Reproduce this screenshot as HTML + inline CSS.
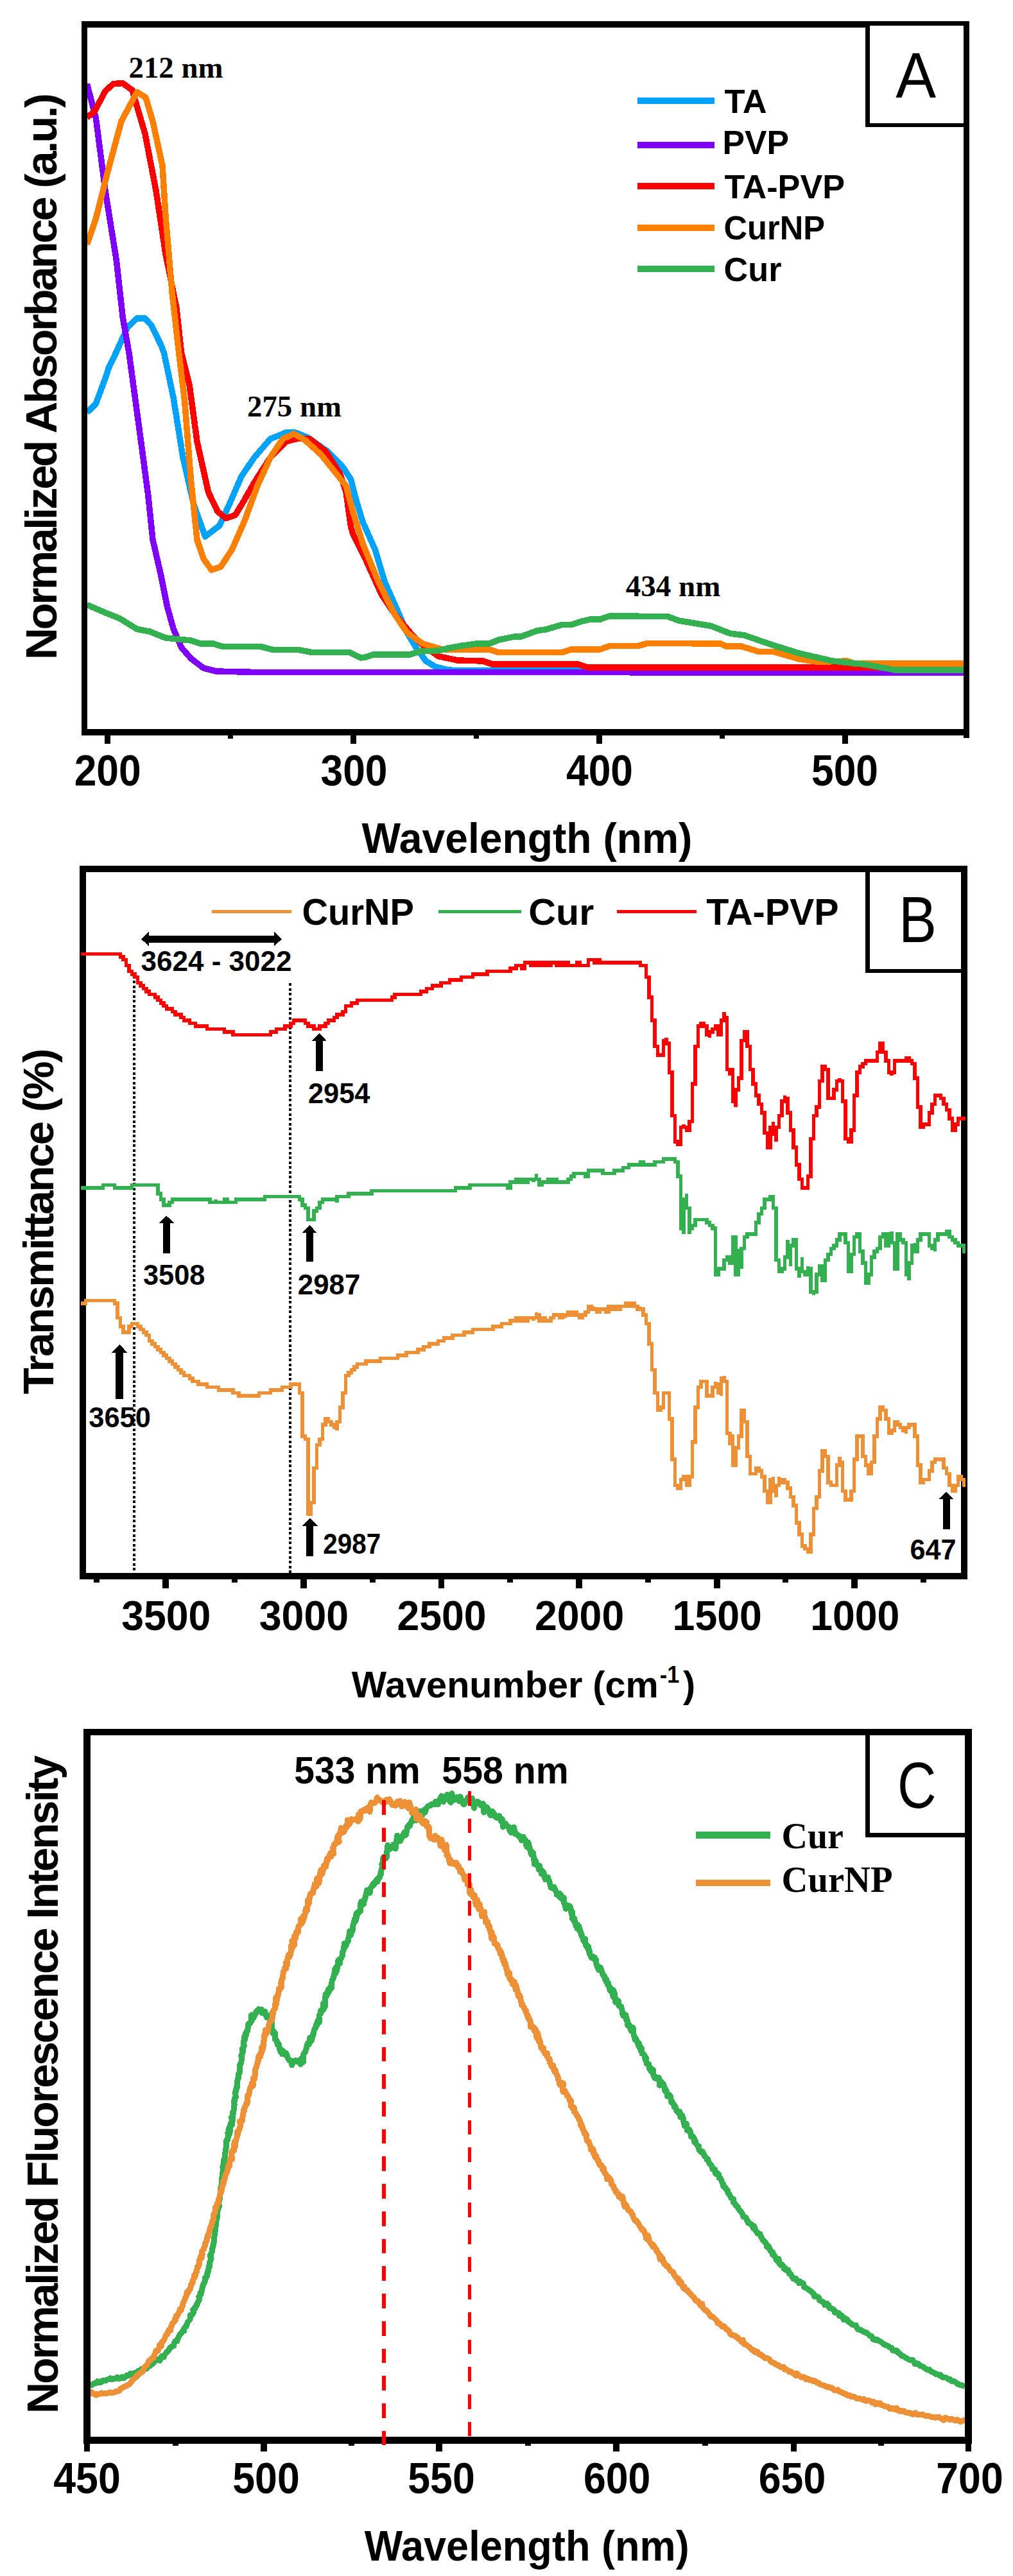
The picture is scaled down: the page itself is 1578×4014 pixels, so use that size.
<!DOCTYPE html>
<html lang="en"><head><meta charset="utf-8"><title>Figure: UV-Vis, FTIR and fluorescence spectra</title>
<style>
html,body{margin:0;padding:0;background:#fff;}
body{width:1578px;height:4014px;overflow:hidden;font-family:"Liberation Sans",Arial,sans-serif;}
svg{display:block;}
text{fill:#000;}
</style></head><body>
<svg width="1578" height="4014" viewBox="0 0 1578 4014" shape-rendering="crispEdges">
<g id="panelA">
<clipPath id="clipA"><rect x="131" y="38" width="1374" height="1103"/></clipPath>
<g clip-path="url(#clipA)">
<polyline points="135.5,642.8 149.4,629.0 164.0,589.5 169.0,574.0 181.0,549.0 198.7,509.7 213.5,496.0 226.0,496.0 235.7,507.0 250.5,537.0 255.5,550.0 270.0,619.0 285.0,713.0 302.0,787.0 319.6,836.0 342.0,819.0 356.7,787.0 376.0,742.5 396.0,713.0 421.0,684.0 445.5,674.0 460.0,674.0 480.0,682.0 509.7,703.0 534.0,727.7 546.7,747.0 555.0,780.0 565.0,813.0 584.5,857.0 599.4,906.7 619.0,951.0 634.0,985.6 648.7,1010.0 663.5,1030.0 678.0,1039.0 698.0,1044.0 722.8,1045.0 905.0,1045.0 1505.0,1046.0" fill="none" stroke="#00a2ff" stroke-width="9.5" stroke-linejoin="round" stroke-linecap="butt" />
<polyline points="135.5,130.6 149.4,184.0 164.0,297.0 181.4,406.0 191.3,495.0 201.0,550.0 211.0,624.0 221.0,698.0 230.8,772.0 238.0,841.0 250.5,895.5 260.4,945.0 270.0,979.4 282.6,1009.0 297.4,1026.0 317.0,1041.0 337.0,1046.0 400.0,1047.5 1505.0,1048.0" fill="none" stroke="#8000ff" stroke-width="9.5" stroke-linejoin="round" stroke-linecap="butt" />
<polyline points="135.5,183.0 147.0,174.0 164.0,142.0 176.5,130.6 191.0,129.6 206.0,140.5 226.0,208.6 243.0,297.0 258.0,396.0 275.0,480.0 282.6,550.0 295.0,599.0 307.0,688.0 324.6,767.0 339.0,797.0 351.7,807.6 366.5,802.7 379.0,782.0 396.0,752.0 421.0,713.0 445.5,688.0 465.0,683.0 482.5,684.0 507.0,703.0 529.4,737.6 539.0,767.0 546.7,821.5 550.0,832.6 569.7,872.0 594.4,926.4 614.0,956.0 638.8,985.6 658.6,1005.4 683.0,1022.7 713.0,1029.0 752.0,1030.0 767.0,1035.0 900.4,1035.0 915.0,1040.0 1505.0,1040.0" fill="none" stroke="#ff0000" stroke-width="9.5" stroke-linejoin="round" stroke-linecap="butt" />
<polyline points="135.5,381.0 149.0,342.0 169.0,263.0 189.0,189.0 213.5,143.4 227.0,152.0 238.0,189.0 253.0,258.0 258.0,337.0 268.0,455.0 278.7,550.0 287.6,624.0 297.4,747.4 307.0,841.0 317.0,870.8 329.5,888.0 344.0,883.0 361.6,856.0 381.0,811.6 401.0,757.0 421.0,713.0 440.6,684.0 457.8,676.0 475.0,685.7 499.8,708.0 519.5,732.6 539.0,757.0 550.0,798.0 565.0,847.0 589.5,906.7 614.0,956.0 634.0,985.6 658.6,1003.0 688.0,1011.8 762.0,1011.8 777.0,1016.7 875.8,1016.7 890.6,1011.8 935.0,1011.8 949.8,1006.4 994.0,1006.4 1009.0,1002.4 1122.7,1003.0 1131.0,1007.0 1154.0,1007.0 1182.6,1015.5 1205.0,1015.5 1245.0,1027.0 1274.0,1031.4 1319.5,1030.0 1331.0,1034.0 1505.0,1034.0" fill="none" stroke="#ff8000" stroke-width="9.5" stroke-linejoin="round" stroke-linecap="butt" />
<polyline points="135.5,942.4 164.0,954.7 186.4,963.6 213.5,980.4 233.0,984.0 258.0,994.0 297.4,998.0 312.0,1003.0 332.0,1003.0 346.8,1007.5 406.0,1007.5 425.8,1012.5 465.0,1012.5 485.0,1016.4 544.0,1016.4 562.0,1025.0 569.7,1024.0 582.0,1020.0 638.8,1020.0 653.7,1015.0 683.0,1014.0 698.0,1010.0 717.8,1006.4 742.5,1003.0 762.0,1003.0 777.0,997.0 801.7,992.0 811.6,992.0 836.0,983.0 851.0,980.7 875.8,973.3 890.6,973.3 905.0,968.4 920.0,965.0 935.0,965.0 949.8,960.0 1040.0,960.5 1057.0,967.0 1108.0,975.5 1137.0,987.0 1160.0,990.0 1200.0,1004.0 1245.0,1018.0 1297.0,1030.0 1348.0,1035.4 1394.0,1044.0 1505.0,1044.0" fill="none" stroke="#33b050" stroke-width="9.5" stroke-linejoin="round" stroke-linecap="butt" />
</g>
<rect x="131.3" y="38.0" width="1374.0" height="1103.2" fill="none" stroke="#000" stroke-width="9.6"/>
<line x1="167.0" y1="1141.0" x2="167.0" y2="1158.5" stroke="#000" stroke-width="9" />
<line x1="550.0" y1="1141.0" x2="550.0" y2="1158.5" stroke="#000" stroke-width="9" />
<line x1="933.0" y1="1141.0" x2="933.0" y2="1158.5" stroke="#000" stroke-width="9" />
<line x1="1316.0" y1="1141.0" x2="1316.0" y2="1158.5" stroke="#000" stroke-width="9" />
<line x1="358.5" y1="1141.0" x2="358.5" y2="1150.5" stroke="#000" stroke-width="8" />
<line x1="741.5" y1="1141.0" x2="741.5" y2="1150.5" stroke="#000" stroke-width="8" />
<line x1="1124.5" y1="1141.0" x2="1124.5" y2="1150.5" stroke="#000" stroke-width="8" />
<line x1="1505.3" y1="1141.0" x2="1505.3" y2="1150.0" stroke="#000" stroke-width="9.6" />
<text x="167.7" y="1223.9" font-family='"Liberation Sans", Arial, sans-serif' font-size="68" font-weight="bold" text-anchor="middle" textLength="104.0" lengthAdjust="spacingAndGlyphs" >200</text>
<text x="551.5" y="1223.9" font-family='"Liberation Sans", Arial, sans-serif' font-size="68" font-weight="bold" text-anchor="middle" textLength="104.0" lengthAdjust="spacingAndGlyphs" >300</text>
<text x="934.0" y="1223.9" font-family='"Liberation Sans", Arial, sans-serif' font-size="68" font-weight="bold" text-anchor="middle" textLength="104.0" lengthAdjust="spacingAndGlyphs" >400</text>
<text x="1316.0" y="1223.9" font-family='"Liberation Sans", Arial, sans-serif' font-size="68" font-weight="bold" text-anchor="middle" textLength="104.0" lengthAdjust="spacingAndGlyphs" >500</text>
<text x="563.5" y="1329.3" font-family='"Liberation Sans", Arial, sans-serif' font-size="67" font-weight="bold" text-anchor="start" textLength="515.0" lengthAdjust="spacingAndGlyphs" >Wavelength (nm)</text>
<text x="87.6" y="1028.0" font-family='"Liberation Sans", Arial, sans-serif' font-size="69" font-weight="bold" text-anchor="start" textLength="883.0" lengthAdjust="spacing" transform="rotate(-90 87.6 1028.0)" >Normalized Absorbance (a.u.)</text>
<line x1="993.0" y1="157.2" x2="1113.3" y2="157.2" stroke="#00a2ff" stroke-width="10" />
<text x="1128.5" y="176.0" font-family='"Liberation Sans", Arial, sans-serif' font-size="52.2" font-weight="bold" text-anchor="start" textLength="66.0" lengthAdjust="spacingAndGlyphs" >TA</text>
<line x1="993.0" y1="225.9" x2="1113.3" y2="225.9" stroke="#8000ff" stroke-width="10" />
<text x="1125.5" y="240.3" font-family='"Liberation Sans", Arial, sans-serif' font-size="52.2" font-weight="bold" text-anchor="start" textLength="103.5" lengthAdjust="spacingAndGlyphs" >PVP</text>
<line x1="993.0" y1="290.2" x2="1113.3" y2="290.2" stroke="#ff0000" stroke-width="10" />
<text x="1128.5" y="309.0" font-family='"Liberation Sans", Arial, sans-serif' font-size="52.2" font-weight="bold" text-anchor="start" textLength="187.5" lengthAdjust="spacingAndGlyphs" >TA-PVP</text>
<line x1="993.0" y1="354.7" x2="1113.3" y2="354.7" stroke="#ff8000" stroke-width="10" />
<text x="1127.5" y="372.8" font-family='"Liberation Sans", Arial, sans-serif' font-size="52.2" font-weight="bold" text-anchor="start" textLength="157.5" lengthAdjust="spacingAndGlyphs" >CurNP</text>
<line x1="993.0" y1="419.1" x2="1113.3" y2="419.1" stroke="#33b050" stroke-width="10" />
<text x="1127.5" y="437.9" font-family='"Liberation Sans", Arial, sans-serif' font-size="52.2" font-weight="bold" text-anchor="start" textLength="90.0" lengthAdjust="spacingAndGlyphs" >Cur</text>
<text x="200.5" y="120.7" font-family='"Liberation Serif", "Times New Roman", serif' font-size="46" font-weight="bold" text-anchor="start" textLength="147.0" lengthAdjust="spacingAndGlyphs" >212 nm</text>
<text x="385.0" y="648.7" font-family='"Liberation Serif", "Times New Roman", serif' font-size="46" font-weight="bold" text-anchor="start" textLength="147.0" lengthAdjust="spacingAndGlyphs" >275 nm</text>
<text x="974.8" y="929.2" font-family='"Liberation Serif", "Times New Roman", serif' font-size="46" font-weight="bold" text-anchor="start" textLength="147.5" lengthAdjust="spacingAndGlyphs" >434 nm</text>
<rect x="1351.5" y="36.3" width="153.0" height="158.5" fill="#fff" stroke="#000" stroke-width="6.6"/>
<line x1="1505.3" y1="36.5" x2="1505.3" y2="200.0" stroke="#000" stroke-width="9.6" />
<text x="1426.8" y="152.0" font-family='"Liberation Sans", Arial, sans-serif' font-size="101" font-weight="normal" text-anchor="middle" textLength="62.9" lengthAdjust="spacingAndGlyphs" >A</text>
</g>
<g id="panelB">
<line x1="208.8" y1="1528.0" x2="208.8" y2="2451.0" stroke="#000" stroke-width="4.4" stroke-dasharray="4.4 3.1"/>
<line x1="452.1" y1="1532.0" x2="452.1" y2="2451.0" stroke="#000" stroke-width="4.1" stroke-dasharray="4.2 3.3"/>
<rect x="129.0" y="1354.0" width="1373.0" height="1102.4" fill="none" stroke="#000" stroke-width="10"/>
<polyline points="129.0,1486.5 187.5,1486.5 187.5,1491.0 192.0,1491.0 192.0,1495.5 196.5,1495.5 196.5,1504.5 201.0,1504.5 201.0,1513.5 205.5,1513.5 205.5,1518.0 210.0,1518.0 210.0,1522.5 214.5,1522.5 214.5,1531.5 219.0,1531.5 219.0,1536.0 223.5,1536.0 223.5,1540.5 228.0,1540.5 228.0,1545.0 232.5,1545.0 232.5,1549.5 241.5,1549.5 241.5,1554.0 246.0,1554.0 246.0,1558.5 250.5,1558.5 250.5,1563.0 255.0,1563.0 255.0,1567.5 259.5,1567.5 259.5,1572.0 268.5,1572.0 268.5,1576.5 273.0,1576.5 273.0,1581.0 282.0,1581.0 282.0,1585.5 286.5,1585.5 286.5,1590.0 295.5,1590.0 295.5,1594.5 304.5,1594.5 304.5,1599.0 322.5,1599.0 322.5,1603.5 349.5,1603.5 349.5,1608.0 363.0,1608.0 363.0,1612.5 421.5,1612.5 421.5,1608.0 430.5,1608.0 430.5,1603.5 444.0,1603.5 444.0,1599.0 453.0,1599.0 453.0,1594.5 457.5,1594.5 457.5,1590.0 475.5,1590.0 475.5,1594.5 480.0,1594.5 480.0,1599.0 489.0,1599.0 489.0,1603.5 498.0,1603.5 498.0,1599.0 507.0,1599.0 507.0,1594.5 511.5,1594.5 511.5,1590.0 520.5,1590.0 520.5,1585.5 525.0,1585.5 525.0,1581.0 534.0,1581.0 534.0,1576.5 538.5,1576.5 538.5,1567.5 547.5,1567.5 547.5,1563.0 556.5,1563.0 556.5,1558.5 610.5,1558.5 610.5,1554.0 615.0,1554.0 615.0,1549.5 655.5,1549.5 655.5,1545.0 664.5,1545.0 664.5,1540.5 673.5,1540.5 673.5,1536.0 687.0,1536.0 687.0,1531.5 700.5,1531.5 700.5,1527.0 718.5,1527.0 718.5,1522.5 736.5,1522.5 736.5,1518.0 759.0,1518.0 759.0,1513.5 795.0,1513.5 795.0,1509.0 804.0,1509.0 804.0,1504.5 813.0,1504.5 813.0,1509.0 817.5,1509.0 817.5,1500.0 826.5,1500.0 826.5,1504.5 831.0,1504.5 831.0,1500.0 835.5,1500.0 835.5,1504.5 840.0,1504.5 840.0,1500.0 844.5,1500.0 844.5,1504.5 849.0,1504.5 849.0,1500.0 853.5,1500.0 853.5,1504.5 858.0,1504.5 858.0,1500.0 867.0,1500.0 867.0,1504.5 871.5,1504.5 871.5,1500.0 876.0,1500.0 876.0,1504.5 880.5,1504.5 880.5,1500.0 885.0,1500.0 885.0,1504.5 898.5,1504.5 898.5,1500.0 903.0,1500.0 903.0,1504.5 916.5,1504.5 916.5,1495.5 925.5,1495.5 925.5,1500.0 930.0,1500.0 930.0,1495.5 934.5,1495.5 934.5,1500.0 997.5,1500.0 997.5,1504.5 1006.5,1504.5 1006.5,1522.5 1011.0,1522.5 1011.0,1554.0 1015.5,1554.0 1015.5,1590.0 1020.0,1590.0 1020.0,1630.5 1024.5,1630.5 1024.5,1644.0 1033.5,1644.0 1033.5,1621.5 1038.0,1621.5 1038.0,1617.0 1038.0,1626.0 1042.5,1626.0 1042.5,1671.0 1047.0,1671.0 1047.0,1738.5 1051.5,1738.5 1051.5,1779.0 1056.0,1779.0 1056.0,1783.5 1060.5,1783.5 1060.5,1756.5 1065.0,1756.5 1065.0,1752.0 1065.0,1756.5 1069.5,1756.5 1069.5,1761.0 1074.0,1761.0 1074.0,1747.5 1078.5,1747.5 1078.5,1689.0 1083.0,1689.0 1083.0,1630.5 1087.5,1630.5 1087.5,1599.0 1092.0,1599.0 1092.0,1594.5 1096.5,1594.5 1096.5,1599.0 1101.0,1599.0 1101.0,1612.5 1105.5,1612.5 1105.5,1617.0 1105.5,1608.0 1110.0,1608.0 1110.0,1603.5 1114.5,1603.5 1114.5,1599.0 1119.0,1599.0 1119.0,1612.5 1123.5,1612.5 1123.5,1590.0 1128.0,1590.0 1128.0,1576.5 1128.0,1585.5 1132.5,1585.5 1132.5,1666.5 1137.0,1666.5 1137.0,1675.5 1137.0,1666.5 1141.5,1666.5 1141.5,1716.0 1146.0,1716.0 1146.0,1725.0 1146.0,1698.0 1150.5,1698.0 1150.5,1680.0 1155.0,1680.0 1155.0,1621.5 1159.5,1621.5 1159.5,1608.0 1164.0,1608.0 1164.0,1630.5 1168.5,1630.5 1168.5,1666.5 1173.0,1666.5 1173.0,1689.0 1177.5,1689.0 1177.5,1707.0 1182.0,1707.0 1182.0,1720.5 1186.5,1720.5 1186.5,1734.0 1191.0,1734.0 1191.0,1765.5 1195.5,1765.5 1195.5,1788.0 1200.0,1788.0 1200.0,1756.5 1204.5,1756.5 1204.5,1770.0 1204.5,1747.5 1204.5,1761.0 1209.0,1761.0 1209.0,1779.0 1209.0,1756.5 1213.5,1756.5 1213.5,1738.5 1218.0,1738.5 1218.0,1716.0 1222.5,1716.0 1222.5,1707.0 1222.5,1711.5 1227.0,1711.5 1227.0,1734.0 1231.5,1734.0 1231.5,1761.0 1236.0,1761.0 1236.0,1788.0 1240.5,1788.0 1240.5,1815.0 1245.0,1815.0 1245.0,1837.5 1249.5,1837.5 1249.5,1851.0 1258.5,1851.0 1258.5,1833.0 1263.0,1833.0 1263.0,1774.5 1267.5,1774.5 1267.5,1738.5 1272.0,1738.5 1272.0,1725.0 1276.5,1725.0 1276.5,1684.5 1281.0,1684.5 1281.0,1662.0 1285.5,1662.0 1285.5,1666.5 1290.0,1666.5 1290.0,1711.5 1299.0,1711.5 1299.0,1698.0 1303.5,1698.0 1303.5,1684.5 1308.0,1684.5 1308.0,1680.0 1308.0,1684.5 1312.5,1684.5 1312.5,1716.0 1317.0,1716.0 1317.0,1774.5 1321.5,1774.5 1321.5,1779.0 1326.0,1779.0 1326.0,1761.0 1330.5,1761.0 1330.5,1707.0 1335.0,1707.0 1335.0,1671.0 1339.5,1671.0 1339.5,1662.0 1344.0,1662.0 1344.0,1657.5 1348.5,1657.5 1348.5,1653.0 1366.5,1653.0 1366.5,1639.5 1371.0,1639.5 1371.0,1626.0 1375.5,1626.0 1375.5,1639.5 1380.0,1639.5 1380.0,1653.0 1384.5,1653.0 1384.5,1671.0 1389.0,1671.0 1389.0,1675.5 1389.0,1671.0 1393.5,1671.0 1393.5,1653.0 1411.5,1653.0 1411.5,1648.5 1416.0,1648.5 1416.0,1653.0 1420.5,1653.0 1420.5,1657.5 1425.0,1657.5 1425.0,1680.0 1429.5,1680.0 1429.5,1725.0 1434.0,1725.0 1434.0,1756.5 1438.5,1756.5 1438.5,1752.0 1447.5,1752.0 1447.5,1734.0 1452.0,1734.0 1452.0,1720.5 1456.5,1720.5 1456.5,1707.0 1465.5,1707.0 1465.5,1711.5 1470.0,1711.5 1470.0,1720.5 1474.5,1720.5 1474.5,1729.5 1479.0,1729.5 1479.0,1743.0 1483.5,1743.0 1483.5,1761.0 1488.0,1761.0 1488.0,1752.0 1492.5,1752.0 1492.5,1743.0 1501.5,1743.0" fill="none" stroke="#ff0000" stroke-width="5.6" stroke-linejoin="miter" stroke-linecap="square" stroke-miterlimit="1.6"/>
<polyline points="129.0,1851.0 160.5,1851.0 160.5,1846.5 178.5,1846.5 178.5,1851.0 205.5,1851.0 205.5,1846.5 246.0,1846.5 246.0,1860.0 250.5,1860.0 250.5,1869.0 255.0,1869.0 255.0,1878.0 264.0,1878.0 264.0,1873.5 268.5,1873.5 268.5,1869.0 327.0,1869.0 327.0,1873.5 336.0,1873.5 336.0,1869.0 336.0,1873.5 349.5,1873.5 349.5,1869.0 354.0,1869.0 354.0,1873.5 367.5,1873.5 367.5,1869.0 412.5,1869.0 412.5,1864.5 466.5,1864.5 466.5,1869.0 471.0,1869.0 471.0,1878.0 475.5,1878.0 475.5,1882.5 480.0,1882.5 480.0,1900.5 489.0,1900.5 489.0,1887.0 493.5,1887.0 493.5,1882.5 498.0,1882.5 498.0,1873.5 502.5,1873.5 502.5,1869.0 525.0,1869.0 525.0,1873.5 525.0,1864.5 543.0,1864.5 543.0,1860.0 579.0,1860.0 579.0,1855.5 709.5,1855.5 709.5,1851.0 732.0,1851.0 732.0,1846.5 790.5,1846.5 790.5,1851.0 795.0,1851.0 795.0,1842.0 804.0,1842.0 804.0,1837.5 808.5,1837.5 808.5,1842.0 813.0,1842.0 813.0,1837.5 817.5,1837.5 817.5,1842.0 822.0,1842.0 822.0,1837.5 831.0,1837.5 831.0,1842.0 831.0,1837.5 835.5,1837.5 835.5,1828.5 835.5,1837.5 840.0,1837.5 840.0,1846.5 844.5,1846.5 844.5,1842.0 853.5,1842.0 853.5,1837.5 858.0,1837.5 858.0,1842.0 862.5,1842.0 862.5,1837.5 867.0,1837.5 867.0,1842.0 885.0,1842.0 885.0,1837.5 889.5,1837.5 889.5,1833.0 894.0,1833.0 894.0,1828.5 912.0,1828.5 912.0,1833.0 916.5,1833.0 916.5,1824.0 939.0,1824.0 939.0,1828.5 957.0,1828.5 957.0,1824.0 970.5,1824.0 970.5,1819.5 979.5,1819.5 979.5,1815.0 997.5,1815.0 997.5,1810.5 1002.0,1810.5 1002.0,1815.0 1020.0,1815.0 1020.0,1810.5 1033.5,1810.5 1033.5,1806.0 1051.5,1806.0 1051.5,1810.5 1056.0,1810.5 1056.0,1833.0 1060.5,1833.0 1060.5,1914.0 1065.0,1914.0 1065.0,1923.0 1065.0,1869.0 1069.5,1869.0 1069.5,1860.0 1069.5,1882.5 1074.0,1882.5 1074.0,1923.0 1074.0,1914.0 1078.5,1914.0 1078.5,1909.5 1083.0,1909.5 1083.0,1900.5 1101.0,1900.5 1101.0,1905.0 1105.5,1905.0 1105.5,1909.5 1110.0,1909.5 1110.0,1914.0 1114.5,1914.0 1114.5,1986.0 1119.0,1986.0 1119.0,1977.0 1128.0,1977.0 1128.0,1963.5 1132.5,1963.5 1132.5,1959.0 1137.0,1959.0 1137.0,1968.0 1141.5,1968.0 1141.5,1927.5 1146.0,1927.5 1146.0,1986.0 1150.5,1986.0 1150.5,1945.5 1150.5,1950.0 1155.0,1950.0 1155.0,1977.0 1155.0,1945.5 1159.5,1945.5 1159.5,1927.5 1164.0,1927.5 1164.0,1923.0 1177.5,1923.0 1177.5,1905.0 1182.0,1905.0 1182.0,1891.5 1186.5,1891.5 1186.5,1882.5 1191.0,1882.5 1191.0,1869.0 1200.0,1869.0 1200.0,1864.5 1204.5,1864.5 1204.5,1882.5 1209.0,1882.5 1209.0,1963.5 1213.5,1963.5 1213.5,1981.5 1218.0,1981.5 1218.0,1977.0 1222.5,1977.0 1222.5,1959.0 1227.0,1959.0 1227.0,1932.0 1227.0,1941.0 1231.5,1941.0 1231.5,1972.5 1231.5,1941.0 1236.0,1941.0 1236.0,1932.0 1240.5,1932.0 1240.5,1977.0 1245.0,1977.0 1245.0,1990.5 1245.0,1977.0 1249.5,1977.0 1249.5,1959.0 1249.5,1981.5 1254.0,1981.5 1254.0,1986.0 1258.5,1986.0 1258.5,1972.5 1258.5,1977.0 1263.0,1977.0 1263.0,2013.0 1267.5,2013.0 1267.5,2017.5 1267.5,2013.0 1272.0,2013.0 1272.0,1986.0 1276.5,1986.0 1276.5,1972.5 1281.0,1972.5 1281.0,1995.0 1285.5,1995.0 1285.5,1963.5 1290.0,1963.5 1290.0,1954.5 1294.5,1954.5 1294.5,1945.5 1299.0,1945.5 1299.0,1941.0 1303.5,1941.0 1303.5,1932.0 1308.0,1932.0 1308.0,1923.0 1317.0,1923.0 1317.0,1936.5 1321.5,1936.5 1321.5,1981.5 1326.0,1981.5 1326.0,1954.5 1330.5,1954.5 1330.5,1927.5 1335.0,1927.5 1335.0,1923.0 1339.5,1923.0 1339.5,1950.0 1344.0,1950.0 1344.0,1968.0 1348.5,1968.0 1348.5,1999.5 1353.0,1999.5 1353.0,1986.0 1357.5,1986.0 1357.5,1959.0 1362.0,1959.0 1362.0,1950.0 1366.5,1950.0 1366.5,1945.5 1371.0,1945.5 1371.0,1927.5 1375.5,1927.5 1375.5,1923.0 1380.0,1923.0 1380.0,1941.0 1384.5,1941.0 1384.5,1923.0 1389.0,1923.0 1389.0,1918.5 1389.0,1936.5 1393.5,1936.5 1393.5,1977.0 1398.0,1977.0 1398.0,1923.0 1402.5,1923.0 1402.5,1932.0 1407.0,1932.0 1407.0,1936.5 1411.5,1936.5 1411.5,1986.0 1416.0,1986.0 1416.0,1995.0 1416.0,1968.0 1420.5,1968.0 1420.5,1941.0 1425.0,1941.0 1425.0,1936.5 1425.0,1950.0 1429.5,1950.0 1429.5,1932.0 1434.0,1932.0 1434.0,1923.0 1447.5,1923.0 1447.5,1941.0 1452.0,1941.0 1452.0,1945.5 1456.5,1945.5 1456.5,1950.0 1456.5,1932.0 1461.0,1932.0 1461.0,1923.0 1474.5,1923.0 1474.5,1918.5 1479.0,1918.5 1479.0,1927.5 1483.5,1927.5 1483.5,1932.0 1488.0,1932.0 1488.0,1936.5 1492.5,1936.5 1492.5,1941.0 1501.5,1941.0 1501.5,1950.0" fill="none" stroke="#33b050" stroke-width="5.6" stroke-linejoin="miter" stroke-linecap="square" stroke-miterlimit="1.6"/>
<polyline points="129.0,2031.0 133.5,2031.0 133.5,2026.5 178.5,2026.5 178.5,2031.0 183.0,2031.0 183.0,2053.5 187.5,2053.5 187.5,2067.0 192.0,2067.0 192.0,2076.0 201.0,2076.0 201.0,2067.0 205.5,2067.0 205.5,2062.5 214.5,2062.5 214.5,2067.0 219.0,2067.0 219.0,2071.5 223.5,2071.5 223.5,2076.0 228.0,2076.0 228.0,2080.5 232.5,2080.5 232.5,2089.5 237.0,2089.5 237.0,2094.0 241.5,2094.0 241.5,2098.5 246.0,2098.5 246.0,2103.0 250.5,2103.0 250.5,2107.5 255.0,2107.5 255.0,2112.0 259.5,2112.0 259.5,2116.5 264.0,2116.5 264.0,2121.0 268.5,2121.0 268.5,2125.5 273.0,2125.5 273.0,2130.0 277.5,2130.0 277.5,2134.5 282.0,2134.5 282.0,2139.0 286.5,2139.0 286.5,2143.5 295.5,2143.5 295.5,2148.0 300.0,2148.0 300.0,2152.5 309.0,2152.5 309.0,2157.0 322.5,2157.0 322.5,2161.5 340.5,2161.5 340.5,2166.0 363.0,2166.0 363.0,2170.5 372.0,2170.5 372.0,2175.0 403.5,2175.0 403.5,2170.5 421.5,2170.5 421.5,2166.0 439.5,2166.0 439.5,2161.5 453.0,2161.5 453.0,2157.0 466.5,2157.0 466.5,2170.5 471.0,2170.5 471.0,2238.0 475.5,2238.0 475.5,2242.5 480.0,2242.5 480.0,2359.5 484.5,2359.5 484.5,2341.5 489.0,2341.5 489.0,2287.5 493.5,2287.5 493.5,2251.5 498.0,2251.5 498.0,2242.5 502.5,2242.5 502.5,2220.0 507.0,2220.0 507.0,2211.0 511.5,2211.0 511.5,2215.5 516.0,2215.5 516.0,2220.0 520.5,2220.0 520.5,2224.5 525.0,2224.5 525.0,2229.0 525.0,2215.5 529.5,2215.5 529.5,2193.0 534.0,2193.0 534.0,2170.5 538.5,2170.5 538.5,2143.5 543.0,2143.5 543.0,2139.0 547.5,2139.0 547.5,2134.5 552.0,2134.5 552.0,2130.0 556.5,2130.0 556.5,2125.5 570.0,2125.5 570.0,2121.0 592.5,2121.0 592.5,2116.5 619.5,2116.5 619.5,2112.0 633.0,2112.0 633.0,2107.5 651.0,2107.5 651.0,2103.0 660.0,2103.0 660.0,2098.5 669.0,2098.5 669.0,2094.0 682.5,2094.0 682.5,2089.5 691.5,2089.5 691.5,2085.0 705.0,2085.0 705.0,2080.5 723.0,2080.5 723.0,2076.0 736.5,2076.0 736.5,2071.5 768.0,2071.5 768.0,2067.0 781.5,2067.0 781.5,2062.5 795.0,2062.5 795.0,2058.0 804.0,2058.0 804.0,2053.5 808.5,2053.5 808.5,2058.0 813.0,2058.0 813.0,2053.5 817.5,2053.5 817.5,2058.0 822.0,2058.0 822.0,2053.5 831.0,2053.5 831.0,2058.0 831.0,2053.5 835.5,2053.5 835.5,2044.5 835.5,2049.0 840.0,2049.0 840.0,2058.0 844.5,2058.0 844.5,2053.5 849.0,2053.5 849.0,2058.0 858.0,2058.0 858.0,2053.5 862.5,2053.5 862.5,2049.0 871.5,2049.0 871.5,2053.5 876.0,2053.5 876.0,2049.0 880.5,2049.0 880.5,2053.5 880.5,2049.0 885.0,2049.0 885.0,2044.5 889.5,2044.5 889.5,2049.0 894.0,2049.0 894.0,2044.5 898.5,2044.5 898.5,2049.0 903.0,2049.0 903.0,2053.5 907.5,2053.5 907.5,2049.0 912.0,2049.0 912.0,2044.5 916.5,2044.5 916.5,2035.5 921.0,2035.5 921.0,2040.0 925.5,2040.0 925.5,2035.5 925.5,2040.0 930.0,2040.0 930.0,2044.5 934.5,2044.5 934.5,2040.0 943.5,2040.0 943.5,2044.5 948.0,2044.5 948.0,2035.5 952.5,2035.5 952.5,2040.0 957.0,2040.0 957.0,2035.5 961.5,2035.5 961.5,2040.0 966.0,2040.0 966.0,2035.5 975.0,2035.5 975.0,2031.0 979.5,2031.0 979.5,2035.5 984.0,2035.5 984.0,2031.0 988.5,2031.0 988.5,2035.5 993.0,2035.5 993.0,2040.0 997.5,2040.0 997.5,2035.5 997.5,2040.0 1002.0,2040.0 1002.0,2049.0 1006.5,2049.0 1006.5,2062.5 1011.0,2062.5 1011.0,2094.0 1015.5,2094.0 1015.5,2134.5 1020.0,2134.5 1020.0,2170.5 1024.5,2170.5 1024.5,2197.5 1029.0,2197.5 1029.0,2193.0 1033.5,2193.0 1033.5,2170.5 1042.5,2170.5 1042.5,2211.0 1047.0,2211.0 1047.0,2274.0 1051.5,2274.0 1051.5,2314.5 1056.0,2314.5 1056.0,2319.0 1060.5,2319.0 1060.5,2305.5 1065.0,2305.5 1065.0,2301.0 1069.5,2301.0 1069.5,2314.5 1074.0,2314.5 1074.0,2301.0 1078.5,2301.0 1078.5,2247.0 1083.0,2247.0 1083.0,2193.0 1087.5,2193.0 1087.5,2161.5 1092.0,2161.5 1092.0,2152.5 1101.0,2152.5 1101.0,2175.0 1110.0,2175.0 1110.0,2161.5 1114.5,2161.5 1114.5,2152.5 1114.5,2157.0 1119.0,2157.0 1119.0,2170.5 1123.5,2170.5 1123.5,2175.0 1123.5,2148.0 1128.0,2148.0 1128.0,2143.5 1128.0,2152.5 1132.5,2152.5 1132.5,2233.5 1137.0,2233.5 1137.0,2251.5 1137.0,2238.0 1141.5,2238.0 1141.5,2283.0 1146.0,2283.0 1146.0,2256.0 1150.5,2256.0 1150.5,2238.0 1155.0,2238.0 1155.0,2197.5 1159.5,2197.5 1159.5,2215.5 1164.0,2215.5 1164.0,2269.5 1168.5,2269.5 1168.5,2296.5 1177.5,2296.5 1177.5,2287.5 1182.0,2287.5 1182.0,2292.0 1186.5,2292.0 1186.5,2301.0 1191.0,2301.0 1191.0,2323.5 1195.5,2323.5 1195.5,2341.5 1200.0,2341.5 1200.0,2305.5 1204.5,2305.5 1204.5,2301.0 1204.5,2323.5 1209.0,2323.5 1209.0,2332.5 1209.0,2314.5 1213.5,2314.5 1213.5,2301.0 1213.5,2310.0 1218.0,2310.0 1218.0,2305.5 1222.5,2305.5 1222.5,2310.0 1227.0,2310.0 1227.0,2319.0 1231.5,2319.0 1231.5,2332.5 1236.0,2332.5 1236.0,2346.0 1240.5,2346.0 1240.5,2373.0 1245.0,2373.0 1245.0,2391.0 1249.5,2391.0 1249.5,2409.0 1254.0,2409.0 1254.0,2413.5 1258.5,2413.5 1258.5,2418.0 1263.0,2418.0 1263.0,2391.0 1267.5,2391.0 1267.5,2350.5 1272.0,2350.5 1272.0,2332.5 1276.5,2332.5 1276.5,2292.0 1281.0,2292.0 1281.0,2260.5 1285.5,2260.5 1285.5,2269.5 1290.0,2269.5 1290.0,2310.0 1294.5,2310.0 1294.5,2314.5 1303.5,2314.5 1303.5,2283.0 1308.0,2283.0 1308.0,2269.5 1308.0,2278.5 1312.5,2278.5 1312.5,2323.5 1317.0,2323.5 1317.0,2337.0 1326.0,2337.0 1326.0,2323.5 1330.5,2323.5 1330.5,2274.0 1335.0,2274.0 1335.0,2238.0 1344.0,2238.0 1344.0,2269.5 1348.5,2269.5 1348.5,2283.0 1353.0,2283.0 1353.0,2296.5 1357.5,2296.5 1357.5,2278.5 1362.0,2278.5 1362.0,2238.0 1366.5,2238.0 1366.5,2211.0 1371.0,2211.0 1371.0,2193.0 1375.5,2193.0 1375.5,2197.5 1380.0,2197.5 1380.0,2211.0 1384.5,2211.0 1384.5,2233.5 1389.0,2233.5 1389.0,2229.0 1393.5,2229.0 1393.5,2215.5 1398.0,2215.5 1398.0,2220.0 1402.5,2220.0 1402.5,2224.5 1407.0,2224.5 1407.0,2229.0 1411.5,2229.0 1411.5,2233.5 1411.5,2224.5 1416.0,2224.5 1416.0,2220.0 1425.0,2220.0 1425.0,2238.0 1429.5,2238.0 1429.5,2283.0 1434.0,2283.0 1434.0,2310.0 1438.5,2310.0 1438.5,2305.5 1447.5,2305.5 1447.5,2292.0 1452.0,2292.0 1452.0,2278.5 1456.5,2278.5 1456.5,2274.0 1470.0,2274.0 1470.0,2287.5 1474.5,2287.5 1474.5,2296.5 1479.0,2296.5 1479.0,2314.5 1483.5,2314.5 1483.5,2323.5 1488.0,2323.5 1488.0,2314.5 1492.5,2314.5 1492.5,2301.0 1497.0,2301.0 1497.0,2305.5 1501.5,2305.5 1501.5,2314.5" fill="none" stroke="#ee9136" stroke-width="5.6" stroke-linejoin="miter" stroke-linecap="square" stroke-miterlimit="1.6"/>
<line x1="258.2" y1="2455.0" x2="258.2" y2="2474.5" stroke="#000" stroke-width="9.8" />
<text x="258.8" y="2539.8" font-family='"Liberation Sans", Arial, sans-serif' font-size="65" font-weight="bold" text-anchor="middle" textLength="139.2" lengthAdjust="spacingAndGlyphs" >3500</text>
<line x1="472.8" y1="2455.0" x2="472.8" y2="2474.5" stroke="#000" stroke-width="9.8" />
<text x="473.4" y="2539.8" font-family='"Liberation Sans", Arial, sans-serif' font-size="65" font-weight="bold" text-anchor="middle" textLength="139.2" lengthAdjust="spacingAndGlyphs" >3000</text>
<line x1="687.4" y1="2455.0" x2="687.4" y2="2474.5" stroke="#000" stroke-width="9.8" />
<text x="688.0" y="2539.8" font-family='"Liberation Sans", Arial, sans-serif' font-size="65" font-weight="bold" text-anchor="middle" textLength="139.2" lengthAdjust="spacingAndGlyphs" >2500</text>
<line x1="902.0" y1="2455.0" x2="902.0" y2="2474.5" stroke="#000" stroke-width="9.8" />
<text x="902.6" y="2539.8" font-family='"Liberation Sans", Arial, sans-serif' font-size="65" font-weight="bold" text-anchor="middle" textLength="139.2" lengthAdjust="spacingAndGlyphs" >2000</text>
<line x1="1116.6" y1="2455.0" x2="1116.6" y2="2474.5" stroke="#000" stroke-width="9.8" />
<text x="1117.2" y="2539.8" font-family='"Liberation Sans", Arial, sans-serif' font-size="65" font-weight="bold" text-anchor="middle" textLength="139.2" lengthAdjust="spacingAndGlyphs" >1500</text>
<line x1="1331.2" y1="2455.0" x2="1331.2" y2="2474.5" stroke="#000" stroke-width="9.8" />
<text x="1331.8" y="2539.8" font-family='"Liberation Sans", Arial, sans-serif' font-size="65" font-weight="bold" text-anchor="middle" textLength="139.2" lengthAdjust="spacingAndGlyphs" >1000</text>
<line x1="150.9" y1="2455.0" x2="150.9" y2="2465.5" stroke="#000" stroke-width="9" />
<line x1="365.5" y1="2455.0" x2="365.5" y2="2465.5" stroke="#000" stroke-width="9" />
<line x1="580.1" y1="2455.0" x2="580.1" y2="2465.5" stroke="#000" stroke-width="9" />
<line x1="794.7" y1="2455.0" x2="794.7" y2="2465.5" stroke="#000" stroke-width="9" />
<line x1="1009.3" y1="2455.0" x2="1009.3" y2="2465.5" stroke="#000" stroke-width="9" />
<line x1="1223.9" y1="2455.0" x2="1223.9" y2="2465.5" stroke="#000" stroke-width="9" />
<line x1="1438.5" y1="2455.0" x2="1438.5" y2="2465.5" stroke="#000" stroke-width="9" />
<text x="547.8" y="2645.0" font-family='"Liberation Sans", Arial, sans-serif' font-size="57.5" font-weight="bold" text-anchor="start" textLength="478.0" lengthAdjust="spacingAndGlyphs" >Wavenumber (cm</text>
<text x="1027.8" y="2621.5" font-family='"Liberation Sans", Arial, sans-serif' font-size="37" font-weight="bold" text-anchor="start" textLength="30.5" lengthAdjust="spacingAndGlyphs" >-1</text>
<text x="1064.0" y="2645.0" font-family='"Liberation Sans", Arial, sans-serif' font-size="57.5" font-weight="bold" text-anchor="start" textLength="19.2" lengthAdjust="spacingAndGlyphs" >)</text>
<text x="83.2" y="2172.5" font-family='"Liberation Sans", Arial, sans-serif' font-size="67.3" font-weight="bold" text-anchor="start" textLength="539.0" lengthAdjust="spacing" transform="rotate(-90 83.2 2172.5)" >Transmittance (%)</text>
<line x1="329.5" y1="1420.3" x2="454.4" y2="1420.3" stroke="#ee9136" stroke-width="5" />
<text x="470.5" y="1441.2" font-family='"Liberation Sans", Arial, sans-serif' font-size="56.5" font-weight="bold" text-anchor="start" textLength="174.5" lengthAdjust="spacingAndGlyphs" >CurNP</text>
<line x1="683.2" y1="1420.3" x2="812.4" y2="1420.3" stroke="#33b050" stroke-width="5" />
<text x="823.3" y="1441.2" font-family='"Liberation Sans", Arial, sans-serif' font-size="56.5" font-weight="bold" text-anchor="start" textLength="102.0" lengthAdjust="spacingAndGlyphs" >Cur</text>
<line x1="961.0" y1="1420.6" x2="1085.0" y2="1420.6" stroke="#ff0000" stroke-width="5" />
<text x="1100.2" y="1441.2" font-family='"Liberation Sans", Arial, sans-serif' font-size="56.5" font-weight="bold" text-anchor="start" textLength="206.5" lengthAdjust="spacingAndGlyphs" >TA-PVP</text>
<rect x="1351.5" y="1354.0" width="150.5" height="159.0" fill="none" stroke="#000" stroke-width="6.6"/>
<text x="1429.5" y="1467.9" font-family='"Liberation Sans", Arial, sans-serif' font-size="102" font-weight="normal" text-anchor="middle" textLength="59.0" lengthAdjust="spacingAndGlyphs" >B</text>
<line x1="231.0" y1="1463.2" x2="428.0" y2="1463.2" stroke="#000" stroke-width="11" />
<polygon points="219.9,1463.2 232,1452 232,1474.4" fill="#000"/>
<polygon points="439.2,1463.2 427,1452 427,1474.4" fill="#000"/>
<text x="219.5" y="1513.2" font-family='"Liberation Sans", Arial, sans-serif' font-size="43.5" font-weight="bold" text-anchor="start" textLength="235.0" lengthAdjust="spacingAndGlyphs" >3624 - 3022</text>
<polygon points="497.4,1610.3 508.9,1621.9 502.8,1621.9 502.8,1669.0 492.0,1669.0 492.0,1621.9 485.9,1621.9" fill="#000"/>
<text x="480.0" y="1718.5" font-family='"Liberation Sans", Arial, sans-serif' font-size="44.3" font-weight="bold" text-anchor="start" textLength="96.5" lengthAdjust="spacingAndGlyphs" >2954</text>
<polygon points="259.3,1894.4 271.6,1906.2 264.8,1906.2 264.8,1953.2 253.8,1953.2 253.8,1906.2 247.1,1906.2" fill="#000"/>
<text x="223.0" y="2001.5" font-family='"Liberation Sans", Arial, sans-serif' font-size="44.3" font-weight="bold" text-anchor="start" textLength="96.5" lengthAdjust="spacingAndGlyphs" >3508</text>
<polygon points="482.3,1909.0 494.1,1921.4 488.1,1921.4 488.1,1966.0 476.6,1966.0 476.6,1921.4 470.6,1921.4" fill="#000"/>
<text x="463.8" y="2016.5" font-family='"Liberation Sans", Arial, sans-serif' font-size="44.3" font-weight="bold" text-anchor="start" textLength="97.5" lengthAdjust="spacingAndGlyphs" >2987</text>
<polygon points="186.3,2095.0 198.8,2108.0 192.2,2108.0 192.2,2179.8 180.4,2179.8 180.4,2108.0 173.8,2108.0" fill="#000"/>
<text x="138.3" y="2224.4" font-family='"Liberation Sans", Arial, sans-serif' font-size="44.8" font-weight="bold" text-anchor="start" textLength="96.5" lengthAdjust="spacingAndGlyphs" >3650</text>
<polygon points="482.7,2365.4 495.2,2377.9 488.2,2377.9 488.2,2424.6 477.2,2424.6 477.2,2377.9 470.2,2377.9" fill="#000"/>
<text x="503.3" y="2421.0" font-family='"Liberation Sans", Arial, sans-serif' font-size="44.3" font-weight="bold" text-anchor="start" textLength="90.0" lengthAdjust="spacingAndGlyphs" >2987</text>
<polygon points="1474.0,2324.6 1486.0,2336.1 1479.5,2336.1 1479.5,2382.7 1468.5,2382.7 1468.5,2336.1 1462.0,2336.1" fill="#000"/>
<text x="1417.5" y="2429.8" font-family='"Liberation Sans", Arial, sans-serif' font-size="44.3" font-weight="bold" text-anchor="start" textLength="72.0" lengthAdjust="spacingAndGlyphs" >647</text>
</g>
<g id="panelC">
<clipPath id="clipC"><rect x="135" y="2698" width="1373" height="1104"/></clipPath>
<g clip-path="url(#clipC)">
<polyline points="135.4,3720.2 138.8,3717.2 140.7,3716.8 143.3,3716.2 145.6,3714.2 146.3,3714.1 149.6,3713.3 151.9,3710.8 155.4,3712.7 158.2,3711.6 159.3,3709.7 162.2,3709.4 165.0,3709.5 166.9,3708.1 169.4,3707.6 171.9,3705.9 175.4,3707.5 176.9,3706.6 180.7,3706.4 182.7,3704.2 185.7,3706.9 188.7,3705.0 189.9,3704.0 192.4,3705.9 195.7,3703.3 197.3,3701.2 199.9,3701.5 202.7,3698.8 205.3,3701.3 206.9,3698.8 209.8,3697.4 212.8,3698.2 215.6,3694.3 216.0,3695.4 220.3,3691.5 222.3,3691.8 223.4,3690.0 225.5,3691.6 228.9,3690.6 230.6,3687.1 233.2,3686.9 235.9,3684.4 237.3,3683.8 239.8,3680.9 242.1,3678.4 244.5,3676.7 247.1,3677.6 249.1,3678.1 250.2,3674.3 251.9,3671.7 255.4,3672.8 256.4,3669.2 258.2,3667.3 259.2,3665.6 262.2,3663.3 263.1,3661.3 265.1,3658.0 266.3,3658.4 268.5,3655.7 270.6,3655.3 271.2,3651.4 273.2,3647.6 275.2,3647.7 276.0,3647.7 277.4,3643.1 279.1,3640.3 280.2,3637.7 282.7,3635.6 283.1,3634.3 285.5,3630.9 286.9,3632.0 286.9,3627.5 288.9,3625.7 289.9,3625.1 290.7,3622.9 292.4,3618.4 293.7,3616.8 295.4,3615.1 296.8,3611.5 296.7,3607.1 298.3,3608.0 300.1,3606.0 301.6,3603.0 300.6,3598.8 303.9,3597.5 304.1,3594.5 306.2,3592.6 306.1,3592.4 306.9,3590.4 308.4,3586.8 310.1,3584.2 310.3,3582.0 309.8,3578.5 312.5,3576.0 312.0,3572.7 313.2,3571.2 313.9,3572.2 314.4,3567.6 315.5,3563.4 316.5,3560.7 317.5,3557.6 318.6,3557.0 319.2,3554.5 319.2,3549.2 320.7,3549.7 322.1,3545.5 322.8,3546.1 323.0,3541.6 323.9,3541.6 324.8,3535.6 325.7,3533.3 326.5,3531.7 325.8,3530.4 326.4,3527.1 328.0,3521.6 328.6,3521.4 329.1,3518.6 327.3,3515.3 329.0,3512.4 327.7,3513.9 330.5,3507.7 330.6,3504.4 331.0,3504.3 331.3,3500.9 332.6,3498.0 332.0,3496.9 333.2,3493.8 333.3,3491.0 333.6,3489.5 334.0,3485.8 334.2,3481.6 333.8,3479.4 335.3,3476.6 335.6,3475.3 335.5,3470.4 336.4,3466.4 336.8,3467.4 335.9,3462.1 336.9,3458.4 337.1,3460.2 337.2,3455.5 338.3,3455.3 338.0,3450.7 338.6,3447.0 339.4,3444.2 339.8,3443.0 340.1,3440.9 341.6,3437.3 340.3,3435.7 341.1,3430.7 340.6,3431.2 341.9,3425.0 342.7,3425.6 343.0,3424.8 342.3,3423.0 342.8,3421.7 344.1,3412.5 343.6,3414.6 344.6,3413.0 343.7,3409.9 345.5,3403.4 345.6,3403.6 345.6,3404.1 345.2,3394.5 345.9,3396.0 346.4,3394.8 346.7,3388.4 346.8,3388.5 347.1,3382.4 347.6,3380.4 348.6,3377.8 346.9,3377.4 347.6,3374.2 347.8,3373.9 348.6,3367.1 348.3,3366.3 350.0,3366.2 350.0,3362.7 350.2,3355.9 350.3,3357.8 351.1,3352.7 351.5,3352.0 352.0,3349.3 351.8,3348.8 353.0,3343.7 352.1,3336.6 354.2,3335.2 352.0,3337.4 354.0,3332.6 354.1,3333.3 355.8,3328.7 354.9,3323.8 357.4,3325.5 356.0,3318.5 358.7,3313.1 358.6,3320.4 359.1,3308.4 360.2,3312.0 362.0,3310.3 361.9,3305.8 360.5,3298.9 363.0,3302.9 362.9,3294.3 362.1,3292.0 363.9,3291.8 363.0,3292.1 364.1,3288.3 364.4,3287.0 364.2,3281.3 365.2,3279.3 364.5,3274.3 365.5,3273.8 365.3,3273.5 365.9,3268.6 367.5,3268.0 366.7,3262.8 366.4,3260.2 367.3,3259.2 367.3,3256.0 368.2,3255.5 368.7,3251.9 369.1,3253.4 369.5,3245.7 369.6,3243.1 370.6,3238.4 371.4,3238.6 370.9,3237.8 371.7,3231.5 372.2,3230.8 373.3,3230.3 373.7,3225.4 373.0,3221.8 373.9,3223.3 373.4,3218.3 374.1,3216.6 375.1,3216.1 375.9,3213.5 376.5,3206.8 376.1,3203.7 375.8,3203.4 377.3,3199.7 377.3,3192.1 378.1,3198.5 378.3,3192.4 379.1,3191.8 379.5,3183.9 380.1,3188.3 379.8,3180.4 381.2,3179.2 380.8,3173.0 381.7,3174.0 383.4,3171.3 383.1,3168.8 382.9,3168.1 385.2,3164.4 385.6,3164.5 386.5,3157.7 386.8,3153.6 387.8,3154.0 388.4,3153.6 389.1,3153.1 391.6,3149.6 391.6,3139.8 393.0,3143.9 394.7,3144.7 398.0,3138.0 399.4,3134.1 400.7,3134.6 402.9,3130.7 405.2,3133.4 407.4,3131.4 407.9,3136.7 411.4,3135.8 412.7,3134.4 414.2,3140.8 415.9,3144.0 417.8,3141.6 419.5,3144.3 419.6,3141.0 420.8,3153.0 420.9,3151.0 422.5,3149.1 423.5,3152.7 423.0,3159.7 424.5,3165.1 426.2,3165.1 425.6,3169.2 427.3,3167.1 428.8,3168.9 428.3,3177.8 429.9,3179.1 431.1,3180.1 432.5,3186.3 432.2,3182.3 434.7,3186.2 435.3,3192.5 437.1,3197.0 438.5,3193.9 439.6,3200.7 441.4,3196.3 441.8,3200.9 443.9,3201.4 445.9,3199.4 448.1,3206.4 450.6,3210.5 450.7,3209.9 453.4,3212.3 454.8,3218.0 456.7,3211.6 460.9,3210.8 462.9,3212.6 466.6,3210.4 468.4,3216.5 468.7,3212.6 469.4,3207.6 472.9,3206.2 472.4,3213.3 472.9,3201.0 474.9,3197.7 475.4,3197.8 475.9,3195.9 477.1,3192.2 478.5,3186.6 479.6,3183.6 481.2,3186.2 481.7,3182.1 482.9,3175.2 484.7,3181.0 485.7,3177.5 487.3,3172.2 487.6,3169.8 488.7,3168.9 489.1,3163.8 491.7,3159.5 490.9,3161.9 492.9,3154.4 493.2,3157.3 494.8,3149.5 496.0,3151.0 495.4,3148.4 497.1,3151.7 497.0,3140.8 499.7,3137.2 499.3,3137.0 499.4,3133.1 500.6,3132.2 502.5,3132.7 503.4,3131.3 504.0,3131.5 503.5,3121.7 504.7,3129.6 506.7,3125.2 506.2,3116.0 507.4,3107.1 508.0,3111.6 508.9,3109.7 511.3,3099.9 512.0,3104.9 512.9,3101.6 513.9,3097.3 515.1,3099.4 516.3,3098.1 516.2,3090.9 516.8,3090.7 517.2,3085.5 519.3,3082.6 519.1,3082.8 519.3,3081.8 520.8,3075.8 521.8,3068.0 523.1,3074.6 524.1,3065.0 523.9,3068.2 524.7,3071.1 525.9,3062.9 526.4,3056.6 528.0,3053.3 529.3,3059.5 530.1,3053.2 530.1,3052.7 531.3,3051.5 533.8,3045.9 533.4,3042.6 535.4,3038.1 536.4,3028.5 536.8,3031.3 537.3,3033.8 539.0,3031.0 539.3,3030.6 540.7,3026.3 541.8,3024.9 542.3,3024.6 543.5,3016.5 544.4,3016.1 544.7,3009.1 546.2,3015.5 546.8,3009.8 546.9,3008.9 548.6,3010.1 549.5,3006.1 550.1,2999.6 550.1,3000.1 552.6,2989.9 553.5,2994.0 554.3,2990.5 555.0,2981.9 555.0,2989.9 556.9,2980.3 557.3,2982.8 560.2,2976.5 559.7,2979.3 561.5,2978.1 561.4,2968.0 562.8,2963.2 564.4,2965.9 566.4,2967.2 567.5,2960.5 568.6,2957.3 568.6,2959.1 571.7,2945.0 571.8,2950.4 574.7,2945.5 576.2,2949.5 577.0,2943.5 578.5,2939.9 578.6,2940.5 582.3,2934.2 582.3,2937.4 584.4,2932.8 584.9,2931.8 586.9,2928.4 587.8,2932.4 589.7,2926.4 591.0,2926.5 592.0,2924.0 593.4,2916.7 593.5,2919.4 593.9,2915.9 594.3,2913.2 596.0,2907.8 594.9,2905.0 596.5,2907.1 595.2,2909.9 596.5,2895.8 598.0,2898.7 598.5,2892.9 601.6,2895.2 602.7,2891.8 601.9,2892.2 604.0,2875.2 606.5,2881.8 609.5,2878.4 611.0,2879.9 612.3,2875.6 613.1,2874.1 615.3,2877.5 616.2,2880.5 618.8,2860.1 621.8,2868.2 623.9,2868.8 624.3,2865.7 626.7,2862.3 629.1,2856.2 629.6,2855.6 630.6,2860.0 632.4,2859.0 633.6,2852.7 634.5,2846.6 635.4,2848.0 636.7,2844.3 638.3,2845.2 639.2,2841.3 641.8,2836.2 643.1,2837.5 644.9,2830.0 647.2,2836.4 648.8,2836.1 650.7,2824.8 652.2,2829.7 653.9,2822.3 657.5,2829.2 657.9,2826.9 660.0,2820.7 661.9,2824.2 664.7,2816.8 666.9,2814.4 669.4,2813.2 670.9,2813.5 672.1,2811.3 675.6,2811.9 678.2,2807.4 679.9,2812.0 682.2,2811.7 684.9,2804.0 687.8,2798.7 689.3,2806.6 690.9,2807.4 693.9,2801.4 696.6,2796.5 698.1,2803.1 702.2,2808.6 703.8,2794.7 707.2,2805.0 709.6,2802.2 711.9,2800.5 715.6,2806.8 716.9,2799.8 719.4,2807.1 722.5,2812.0 725.4,2807.8 727.4,2804.0 729.3,2800.9 732.9,2803.7 735.3,2802.1 738.7,2817.2 739.8,2810.3 742.5,2807.8 744.4,2807.6 746.3,2809.6 749.7,2813.6 752.6,2810.7 753.8,2824.1 756.4,2815.2 758.5,2816.3 762.3,2822.0 763.3,2828.1 766.2,2828.9 767.4,2822.8 770.0,2827.4 771.5,2828.6 772.3,2831.9 775.6,2832.7 777.7,2829.7 777.9,2830.4 780.8,2838.2 782.4,2834.7 783.7,2847.0 786.0,2843.5 786.9,2841.1 790.1,2845.7 792.6,2846.7 793.2,2849.8 796.0,2855.7 799.1,2847.6 800.5,2847.4 802.4,2857.7 804.4,2857.1 807.2,2860.0 809.1,2862.6 811.5,2861.7 812.1,2867.3 815.4,2862.4 816.1,2868.1 818.2,2866.5 818.8,2867.5 819.9,2876.5 821.7,2878.5 822.7,2871.0 824.3,2876.5 826.2,2884.4 827.7,2889.8 828.4,2885.4 829.2,2889.6 830.6,2887.2 832.5,2904.6 834.2,2899.0 834.6,2902.8 836.0,2904.2 837.0,2907.5 838.8,2908.5 840.6,2907.1 839.6,2913.5 842.8,2913.2 843.6,2920.1 843.9,2914.6 846.8,2917.6 848.0,2924.3 849.7,2928.8 850.1,2926.6 853.8,2925.5 854.1,2929.8 855.5,2930.4 858.2,2941.3 859.4,2939.6 861.2,2942.9 863.1,2941.3 862.9,2940.2 866.8,2948.5 867.3,2952.3 869.3,2950.4 871.3,2950.2 871.8,2956.3 873.9,2953.1 875.6,2959.4 876.6,2956.2 878.3,2957.4 878.4,2965.2 880.0,2966.6 881.4,2974.4 883.7,2968.8 887.0,2972.1 886.2,2970.2 887.2,2969.9 888.6,2972.5 890.4,2982.8 891.5,2979.3 891.6,2989.8 894.2,2993.1 894.7,2989.4 896.4,2998.5 895.9,2995.8 897.3,3001.3 899.7,2998.9 899.4,3005.4 901.8,3001.1 902.8,3008.9 903.7,3007.6 904.9,3011.1 905.8,3016.1 906.9,3017.0 907.4,3018.5 908.7,3023.6 911.5,3026.3 911.5,3021.2 912.3,3030.2 913.3,3032.9 913.8,3030.4 915.5,3036.5 916.5,3033.1 918.4,3044.6 918.5,3041.3 918.9,3044.1 921.3,3050.6 923.3,3048.4 925.7,3053.1 926.2,3049.9 926.3,3053.7 928.1,3053.2 929.0,3059.4 930.8,3065.7 931.7,3065.3 932.6,3069.6 935.2,3065.7 936.4,3068.4 937.5,3072.0 939.1,3077.6 941.4,3079.1 941.6,3080.2 942.6,3084.5 944.6,3084.3 944.3,3087.0 947.0,3093.5 947.3,3089.8 948.5,3094.5 950.2,3101.3 952.4,3098.8 952.1,3103.0 954.3,3101.2 955.1,3111.6 955.2,3100.8 957.8,3106.6 957.9,3109.2 958.7,3119.8 960.3,3118.2 961.4,3118.6 963.4,3117.8 963.7,3125.2 966.2,3126.8 966.6,3126.7 967.2,3126.6 968.3,3130.1 970.0,3136.4 969.8,3139.0 970.9,3140.7 972.8,3142.3 974.9,3139.8 975.7,3147.6 976.8,3146.7 977.8,3152.2 977.8,3155.8 980.1,3154.8 980.4,3156.1 983.1,3164.3 983.7,3164.8 984.8,3164.3 986.2,3159.8 987.2,3170.7 988.3,3175.0 989.5,3178.8 990.0,3176.0 990.7,3178.4 992.8,3181.4 994.6,3187.4 995.5,3184.0 995.9,3189.4 997.5,3189.4 998.0,3195.1 999.7,3192.3 1000.2,3200.1 1001.8,3200.0 1004.1,3203.0 1004.6,3207.4 1006.2,3211.4 1006.1,3205.9 1007.4,3215.6 1009.0,3216.6 1010.7,3216.5 1011.5,3223.4 1013.6,3222.3 1014.0,3227.5 1016.6,3224.6 1017.8,3226.0 1018.0,3233.8 1020.5,3238.4 1021.5,3236.4 1023.7,3239.3 1024.3,3237.8 1026.3,3237.7 1027.9,3242.7 1027.4,3249.4 1029.3,3242.7 1032.0,3248.5 1033.2,3247.0 1035.2,3254.5 1036.1,3258.7 1036.6,3255.4 1038.9,3259.8 1039.6,3266.5 1041.3,3265.1 1042.4,3264.4 1044.3,3266.4 1044.5,3266.9 1046.0,3276.2 1046.7,3274.6 1050.6,3281.4 1050.0,3283.2 1051.4,3281.6 1052.6,3284.2 1054.2,3289.7 1055.6,3290.3 1057.6,3292.9 1058.6,3290.4 1060.0,3298.9 1060.8,3296.8 1062.4,3295.7 1064.4,3302.0 1065.0,3306.8 1066.5,3313.0 1066.4,3309.4 1069.2,3309.3 1070.3,3319.8 1072.2,3317.4 1071.1,3318.7 1074.0,3319.0 1075.2,3321.5 1076.7,3329.5 1077.6,3327.7 1079.4,3329.3 1081.0,3331.6 1081.9,3338.6 1083.1,3335.9 1084.5,3340.9 1085.8,3342.2 1087.4,3344.4 1088.4,3344.0 1089.0,3349.7 1092.5,3354.0 1092.0,3352.4 1094.5,3352.6 1095.2,3353.9 1097.3,3359.4 1098.4,3360.5 1100.4,3363.0 1101.4,3365.4 1102.6,3364.3 1105.0,3371.4 1107.1,3372.4 1108.0,3373.8 1109.3,3376.6 1110.1,3380.3 1112.1,3380.6 1113.9,3380.8 1114.6,3387.3 1117.0,3386.0 1117.8,3387.6 1119.5,3388.0 1120.3,3393.5 1121.7,3393.5 1123.5,3396.9 1124.9,3401.1 1126.3,3402.5 1126.8,3406.8 1128.3,3407.5 1130.0,3408.3 1130.2,3410.7 1133.3,3412.6 1134.2,3417.2 1135.3,3418.2 1136.2,3419.6 1138.5,3424.3 1139.2,3425.0 1141.8,3426.1 1142.3,3426.3 1142.6,3432.3 1145.3,3434.1 1145.9,3435.9 1147.4,3437.1 1149.0,3438.5 1150.6,3441.8 1152.3,3444.8 1154.1,3446.2 1155.5,3448.2 1156.4,3449.7 1157.6,3453.3 1159.5,3455.1 1161.8,3455.3 1163.8,3460.1 1166.0,3462.2 1165.7,3464.2 1168.3,3464.5 1169.7,3466.4 1171.3,3466.6 1173.3,3472.1 1174.7,3468.9 1176.4,3474.1 1177.8,3476.2 1180.1,3480.3 1182.1,3480.8 1184.0,3481.1 1184.3,3482.4 1185.6,3485.7 1187.7,3489.3 1188.9,3491.3 1191.6,3492.9 1192.0,3494.2 1194.1,3497.1 1194.7,3501.3 1196.9,3499.8 1198.7,3503.9 1201.1,3508.7 1201.3,3509.0 1203.4,3509.4 1203.5,3513.4 1205.6,3513.1 1207.4,3516.5 1209.2,3521.1 1211.3,3523.7 1213.0,3519.8 1213.3,3525.8 1216.2,3529.9 1216.9,3527.8 1220.3,3531.1 1221.1,3535.0 1222.7,3533.7 1224.2,3537.1 1226.1,3538.2 1227.9,3537.1 1229.3,3542.5 1232.0,3543.5 1233.6,3547.0 1235.8,3550.6 1237.2,3550.2 1239.6,3550.3 1240.6,3553.3 1245.2,3554.6 1244.6,3557.6 1246.7,3555.6 1249.5,3557.7 1251.7,3558.1 1252.5,3563.8 1253.9,3564.5 1256.1,3565.3 1258.3,3566.8 1260.5,3568.7 1262.8,3569.9 1265.5,3572.5 1267.5,3573.9 1268.5,3578.3 1271.2,3578.4 1273.4,3578.5 1275.7,3580.5 1276.8,3584.7 1278.4,3585.2 1281.4,3586.7 1283.8,3588.9 1284.6,3591.8 1288.2,3589.4 1290.1,3591.7 1290.9,3591.9 1292.2,3596.7 1294.8,3597.0 1297.0,3598.2 1299.6,3599.7 1300.4,3603.3 1304.9,3603.7 1306.9,3604.7 1307.2,3608.7 1308.6,3607.1 1311.7,3608.3 1314.2,3615.0 1316.8,3612.6 1318.6,3613.9 1320.1,3615.2 1321.2,3617.4 1324.8,3620.1 1327.1,3621.6 1328.6,3622.8 1331.1,3623.2 1333.2,3623.1 1335.1,3626.8 1336.7,3629.9 1339.8,3630.7 1340.9,3630.6 1344.7,3633.2 1345.5,3633.1 1348.6,3635.0 1350.0,3634.9 1352.9,3637.4 1354.7,3639.4 1357.4,3640.3 1358.8,3642.8 1360.5,3645.5 1363.6,3646.2 1365.8,3645.5 1367.3,3646.4 1370.0,3647.8 1371.7,3648.7 1375.0,3651.3 1376.9,3653.0 1379.4,3654.1 1383.2,3655.4 1384.0,3656.7 1386.3,3657.7 1388.7,3658.3 1390.5,3662.5 1392.4,3663.1 1395.6,3662.2 1397.9,3663.5 1397.7,3665.3 1401.6,3667.3 1403.7,3670.1 1405.8,3671.2 1409.1,3672.6 1410.3,3673.9 1413.3,3675.3 1414.7,3676.2 1417.0,3677.2 1420.0,3677.9 1421.3,3677.4 1423.9,3680.5 1425.6,3683.8 1428.0,3682.5 1431.3,3683.7 1433.5,3686.7 1434.7,3686.9 1437.0,3687.5 1441.6,3690.9 1441.9,3691.1 1444.1,3692.4 1447.3,3692.2 1448.8,3694.5 1451.4,3695.5 1454.5,3697.1 1456.9,3698.6 1458.5,3699.8 1461.8,3699.9 1463.2,3701.6 1465.5,3700.8 1468.0,3703.8 1470.2,3704.9 1473.0,3704.9 1475.2,3705.6 1476.9,3707.4 1479.9,3707.4 1481.8,3710.0 1484.2,3711.0 1486.8,3710.9 1489.9,3712.9 1491.8,3714.9 1494.8,3716.0 1497.3,3716.9 1498.8,3716.8 1500.8,3717.7 1503.1,3718.6" fill="none" stroke="#33b050" stroke-width="9" stroke-linejoin="round" stroke-linecap="butt" />
<polyline points="134.6,3726.7 137.7,3728.1 139.9,3729.4 142.5,3727.4 144.9,3729.9 148.3,3730.5 150.0,3732.0 152.3,3730.2 155.3,3730.2 158.2,3728.9 159.5,3729.6 163.7,3729.3 165.4,3729.2 168.9,3728.9 171.9,3727.8 173.8,3728.5 176.5,3728.1 178.5,3727.7 180.8,3726.0 182.5,3726.2 185.8,3725.3 187.8,3721.9 188.9,3721.9 192.7,3719.6 195.6,3718.4 197.0,3717.9 199.5,3715.9 200.7,3715.7 202.2,3714.5 204.8,3711.1 206.5,3708.6 208.0,3706.8 211.2,3705.1 212.5,3703.8 213.9,3700.7 216.2,3700.3 217.8,3697.5 220.1,3697.0 222.4,3695.4 222.9,3693.9 224.2,3689.9 227.5,3686.7 229.8,3684.3 229.6,3683.7 231.1,3680.5 232.5,3678.1 234.8,3677.5 236.4,3674.7 237.7,3674.5 239.9,3673.8 240.3,3669.2 241.9,3667.7 242.9,3663.3 245.9,3663.1 247.1,3659.9 248.6,3657.2 248.6,3654.1 251.3,3655.9 252.0,3649.8 253.5,3648.1 254.8,3647.3 255.6,3645.4 257.0,3643.1 257.5,3640.7 259.4,3637.2 260.9,3637.0 261.6,3634.0 263.7,3629.7 265.7,3631.3 265.9,3626.6 266.9,3626.0 268.2,3620.6 270.1,3618.6 272.3,3617.2 272.5,3614.7 273.7,3614.7 274.1,3608.8 276.2,3608.9 277.5,3605.0 278.1,3604.8 279.4,3602.0 280.2,3598.6 282.2,3600.1 283.6,3594.6 284.2,3593.9 285.3,3588.1 286.1,3587.4 286.8,3585.3 287.8,3583.0 289.0,3580.0 290.4,3576.9 291.4,3571.2 293.0,3572.5 293.8,3569.5 295.3,3568.1 295.8,3567.4 296.2,3567.0 297.4,3562.1 297.3,3560.4 300.2,3557.4 299.8,3555.1 300.8,3552.5 303.1,3548.8 302.3,3546.2 303.4,3544.8 304.7,3544.7 305.2,3540.7 306.5,3539.5 307.5,3532.4 308.6,3532.5 309.0,3530.3 310.4,3528.0 310.6,3522.4 312.0,3519.2 313.2,3516.2 312.3,3516.6 314.0,3518.8 315.1,3512.7 314.7,3507.9 314.8,3508.0 317.6,3504.5 317.8,3502.8 319.5,3499.3 319.8,3495.3 320.6,3494.1 321.1,3493.8 322.2,3490.6 322.3,3489.8 323.3,3483.2 324.8,3484.5 325.0,3480.3 326.2,3478.0 326.6,3477.5 327.1,3472.5 327.5,3470.7 329.3,3468.9 329.1,3466.4 330.5,3464.3 330.1,3462.7 331.9,3458.8 332.7,3454.4 332.9,3457.4 333.0,3450.2 334.6,3448.5 335.5,3443.9 335.8,3438.6 336.4,3438.8 338.1,3437.9 338.2,3436.3 338.7,3432.8 340.1,3431.9 340.3,3429.8 340.6,3427.3 342.3,3422.8 342.2,3420.5 343.7,3417.4 343.5,3413.5 344.8,3415.7 346.0,3407.7 346.3,3407.6 347.0,3405.8 347.8,3398.4 348.7,3401.9 349.0,3397.1 350.0,3395.8 350.4,3392.2 352.4,3387.1 351.5,3388.3 353.3,3385.6 353.0,3385.1 354.7,3381.5 355.9,3374.3 355.3,3377.9 357.8,3374.7 356.9,3372.2 357.8,3369.1 359.2,3364.0 359.1,3364.3 361.1,3359.8 361.6,3364.5 360.4,3355.1 361.9,3350.6 363.1,3349.9 364.5,3351.4 364.3,3344.3 365.2,3337.5 366.7,3344.0 366.5,3338.9 367.9,3334.5 367.6,3334.8 369.7,3328.4 370.6,3325.3 369.8,3327.8 369.7,3321.9 370.8,3321.8 373.0,3318.1 372.8,3317.5 374.4,3313.3 373.7,3305.6 374.6,3309.6 375.8,3304.3 377.2,3305.1 377.1,3300.7 377.3,3301.4 378.8,3294.7 379.4,3287.9 380.3,3289.7 380.6,3289.2 381.1,3284.6 382.2,3281.8 381.4,3284.2 383.7,3277.6 385.0,3278.1 385.4,3273.3 385.2,3266.8 385.6,3265.6 388.0,3264.7 387.6,3263.8 388.5,3258.4 389.5,3254.3 389.8,3252.9 390.9,3251.6 392.5,3248.2 392.0,3246.5 394.1,3250.4 394.0,3243.7 394.6,3238.3 395.7,3238.0 396.4,3239.7 397.2,3234.7 397.6,3230.2 397.6,3224.3 399.6,3220.9 399.3,3222.0 399.5,3220.2 401.2,3213.5 401.8,3211.8 402.0,3212.8 402.8,3204.3 403.7,3203.1 405.2,3205.2 404.7,3204.4 404.7,3201.2 405.8,3200.6 407.1,3199.8 407.4,3195.4 407.8,3189.6 409.3,3193.9 410.0,3190.1 410.2,3185.5 411.2,3178.0 411.4,3179.0 412.1,3169.3 413.0,3171.9 413.2,3163.2 415.0,3166.7 415.6,3168.5 416.2,3163.1 417.4,3165.3 418.3,3158.1 418.6,3156.0 419.6,3152.3 420.3,3152.3 422.5,3148.2 421.5,3149.4 423.3,3148.2 424.7,3142.0 424.3,3135.1 425.1,3137.7 425.9,3137.6 426.1,3133.0 428.6,3129.4 428.4,3128.9 428.6,3127.5 429.5,3113.0 430.6,3123.1 431.0,3118.3 431.3,3114.9 432.8,3109.2 432.6,3109.1 433.5,3107.8 434.5,3098.7 434.6,3103.2 435.7,3098.5 436.0,3100.4 438.6,3095.4 437.5,3090.2 438.8,3088.5 438.6,3087.8 439.1,3083.7 440.4,3082.5 441.0,3076.0 441.7,3071.7 442.6,3071.4 443.8,3066.1 445.2,3065.7 446.0,3066.9 445.5,3057.9 447.3,3056.7 448.0,3060.7 447.3,3054.0 448.2,3053.3 449.2,3046.7 451.1,3044.9 450.7,3044.8 451.4,3048.8 453.1,3042.4 453.0,3032.8 453.8,3037.4 455.0,3036.6 455.6,3033.3 454.9,3024.4 456.4,3025.8 458.5,3030.9 458.1,3018.0 460.6,3019.9 460.8,3013.8 461.9,3009.6 462.9,3010.0 462.7,3012.7 464.3,3010.7 465.1,3001.3 466.9,3000.3 468.7,2996.4 468.6,2989.8 469.7,2996.8 469.4,2997.7 471.3,2995.1 472.2,2985.7 473.2,2989.6 474.5,2986.4 475.8,2978.8 475.8,2977.6 476.9,2973.8 476.6,2973.5 478.8,2976.8 479.3,2964.4 479.2,2961.0 481.3,2966.1 481.6,2960.7 483.5,2951.2 484.1,2951.9 484.9,2950.2 486.8,2948.5 486.6,2949.5 487.5,2949.6 488.7,2942.9 489.7,2941.7 490.1,2936.0 492.0,2940.1 492.9,2939.0 493.4,2930.6 493.9,2926.5 496.6,2934.7 497.8,2928.0 498.8,2918.9 500.0,2913.5 501.7,2916.5 502.0,2919.8 504.0,2910.9 504.1,2909.7 504.8,2906.5 506.5,2908.5 507.5,2909.0 509.2,2896.5 511.1,2897.9 511.5,2896.0 513.0,2892.0 514.8,2887.4 515.8,2893.0 515.9,2888.0 516.7,2887.9 519.5,2888.7 518.7,2879.0 519.4,2880.2 520.4,2874.2 523.4,2873.0 523.0,2872.3 524.8,2868.0 526.1,2860.4 528.1,2870.1 527.8,2862.4 529.9,2855.0 531.4,2848.5 533.4,2855.0 533.8,2855.4 535.6,2854.6 536.7,2852.8 539.1,2844.6 540.6,2846.7 541.4,2835.9 543.7,2841.0 544.4,2842.5 547.4,2834.8 549.1,2835.4 551.7,2835.2 554.9,2834.1 557.9,2838.3 558.9,2826.4 560.7,2834.7 562.5,2822.3 564.9,2822.8 566.2,2820.5 568.7,2821.4 570.8,2817.8 572.2,2820.1 573.4,2816.1 576.0,2823.1 577.0,2813.4 578.2,2808.7 581.9,2809.6 584.4,2809.2 586.3,2805.1 587.6,2800.9 588.3,2801.9 592.6,2805.8 596.1,2808.4 598.1,2806.9 601.8,2804.6 603.0,2807.7 606.4,2803.7 608.8,2807.4 611.4,2812.9 612.9,2812.1 616.2,2813.7 619.0,2807.2 621.1,2810.3 623.1,2806.1 626.0,2815.0 628.0,2810.4 631.1,2807.8 633.7,2812.6 635.5,2817.2 637.6,2808.5 639.4,2813.4 641.6,2825.0 642.3,2823.0 645.4,2824.2 647.7,2819.6 648.7,2834.6 651.2,2834.3 651.7,2834.8 654.5,2829.2 656.4,2837.8 659.0,2841.6 661.1,2837.2 664.4,2839.1 662.8,2840.0 664.9,2846.4 666.2,2845.6 667.3,2847.9 667.5,2846.1 668.3,2847.7 668.8,2860.3 670.5,2864.5 672.8,2863.2 676.6,2866.9 677.6,2860.5 682.0,2864.0 682.8,2867.4 683.8,2867.1 686.2,2876.3 688.0,2866.5 688.3,2871.6 689.6,2874.6 693.0,2875.3 692.9,2883.6 695.2,2874.7 696.2,2889.3 695.9,2890.8 698.3,2891.0 699.3,2897.6 700.9,2903.6 701.3,2897.4 703.1,2901.6 704.8,2902.1 706.3,2904.4 709.5,2902.2 711.1,2903.1 713.4,2910.0 714.4,2907.6 716.5,2915.2 716.7,2916.8 718.4,2914.2 720.8,2919.5 721.3,2920.6 722.5,2922.1 724.0,2929.1 724.1,2927.3 726.3,2930.4 727.6,2924.6 728.2,2936.5 728.8,2931.3 731.6,2937.6 731.8,2947.4 732.0,2950.4 733.3,2944.8 733.7,2944.0 734.7,2952.5 735.7,2951.9 737.5,2956.9 739.4,2953.1 740.7,2964.4 741.3,2968.3 743.2,2959.8 744.1,2964.6 744.2,2967.2 745.6,2974.6 747.5,2967.3 748.9,2977.4 750.3,2978.1 750.0,2978.4 750.8,2986.1 754.4,2979.0 754.1,2983.4 756.0,2987.8 756.6,2995.4 756.8,2994.1 759.6,2994.7 760.2,3001.7 761.9,3000.7 762.5,3002.5 762.6,3006.0 764.3,3010.6 766.0,3021.1 766.0,3010.4 767.7,3017.5 769.3,3018.3 769.0,3020.4 770.5,3028.8 771.9,3028.6 773.5,3030.7 773.9,3029.2 774.6,3030.3 776.4,3036.5 776.7,3036.9 778.4,3038.4 779.4,3044.9 780.1,3041.0 781.8,3045.0 783.0,3052.5 782.5,3052.0 784.6,3056.8 785.2,3054.2 786.1,3061.7 787.4,3059.5 789.1,3068.6 789.3,3069.2 790.2,3070.5 790.6,3076.4 792.3,3074.9 793.4,3074.2 793.9,3083.6 795.3,3082.1 796.8,3087.3 798.4,3086.3 798.4,3091.9 800.8,3087.8 801.2,3088.9 802.2,3090.9 803.1,3100.1 803.8,3093.9 804.4,3096.9 805.8,3100.4 806.9,3108.0 808.0,3111.0 809.9,3109.5 811.2,3116.8 811.4,3117.8 812.7,3122.9 812.7,3124.4 813.0,3121.8 815.2,3126.9 816.5,3128.2 818.2,3132.5 819.9,3134.0 819.7,3135.9 821.3,3140.3 822.3,3140.7 822.8,3145.1 824.3,3145.4 825.1,3147.2 826.9,3152.7 826.4,3155.2 826.7,3158.4 829.3,3158.9 830.9,3158.8 832.0,3162.4 832.2,3164.6 834.0,3161.4 834.4,3165.6 836.3,3175.6 836.6,3173.3 837.5,3167.7 839.9,3177.8 839.7,3181.0 840.7,3179.3 843.3,3191.6 844.0,3190.7 843.7,3192.1 847.0,3191.6 846.7,3195.8 848.4,3199.1 849.7,3200.4 852.2,3199.5 852.1,3204.2 853.9,3206.4 854.4,3209.1 856.0,3207.8 856.0,3213.7 858.0,3215.3 858.8,3218.2 859.8,3220.5 861.7,3218.4 863.3,3226.9 864.2,3228.9 864.9,3225.6 866.6,3231.3 866.7,3231.6 868.7,3235.0 870.0,3241.1 870.8,3242.2 871.9,3248.3 873.3,3245.7 874.1,3244.8 875.5,3250.3 877.2,3246.0 876.8,3259.3 879.9,3257.7 880.6,3260.4 881.6,3262.0 882.0,3261.7 883.6,3265.9 884.6,3266.6 886.5,3269.6 887.7,3274.0 889.1,3272.5 889.6,3281.9 889.5,3277.5 891.3,3284.5 892.8,3283.2 894.3,3284.1 894.4,3290.4 896.3,3292.2 897.5,3293.6 898.2,3296.3 899.5,3297.3 902.1,3302.2 901.8,3302.4 904.0,3306.0 904.0,3311.0 904.5,3307.5 906.3,3311.7 906.7,3313.9 908.0,3316.0 907.7,3317.1 910.3,3322.0 910.7,3325.4 912.8,3327.1 913.2,3326.1 914.0,3333.7 914.7,3336.1 916.4,3337.0 917.2,3336.9 918.1,3339.6 920.8,3348.3 920.7,3350.1 922.5,3349.6 924.0,3348.8 924.6,3356.0 925.9,3355.8 927.0,3361.5 928.5,3358.8 929.5,3363.4 930.7,3364.2 931.8,3368.5 932.7,3367.8 934.0,3373.4 935.1,3372.9 936.9,3374.0 938.9,3379.4 938.8,3381.0 940.3,3378.2 941.4,3384.9 943.3,3387.4 945.3,3389.8 945.8,3396.0 947.5,3392.6 947.3,3396.1 950.0,3394.8 951.7,3397.6 952.4,3401.6 953.1,3404.7 955.8,3406.8 956.8,3410.7 959.3,3413.1 959.3,3415.8 961.0,3415.6 962.3,3419.1 964.0,3418.9 964.3,3423.2 967.6,3425.6 968.7,3425.8 969.6,3422.6 971.0,3429.8 973.0,3438.3 974.4,3435.2 975.4,3436.3 977.0,3439.9 978.8,3444.0 979.8,3444.6 981.3,3445.7 982.7,3445.8 984.2,3449.9 985.1,3450.3 986.7,3455.4 989.0,3459.7 990.6,3461.1 991.6,3460.1 990.9,3461.6 993.6,3463.0 996.1,3468.6 998.3,3471.0 999.5,3473.6 1000.1,3474.9 1001.4,3474.3 1002.8,3475.2 1005.5,3482.8 1006.0,3481.5 1006.8,3488.5 1009.3,3483.6 1010.7,3487.5 1010.5,3490.0 1012.7,3494.2 1015.2,3497.1 1016.6,3497.1 1016.8,3501.2 1019.0,3500.1 1021.0,3503.6 1022.2,3504.5 1022.8,3507.8 1024.8,3509.8 1026.8,3513.5 1028.2,3520.9 1028.8,3515.0 1032.3,3519.1 1032.5,3522.7 1033.0,3523.8 1035.2,3528.1 1035.3,3526.2 1038.1,3531.3 1040.0,3530.8 1043.0,3535.5 1043.2,3536.5 1044.9,3538.7 1046.7,3539.5 1048.0,3539.6 1049.1,3542.8 1051.9,3547.7 1053.0,3548.2 1055.2,3551.7 1056.6,3550.6 1057.1,3555.6 1059.0,3558.1 1060.8,3555.2 1062.5,3561.0 1064.7,3565.4 1066.0,3563.3 1067.4,3567.9 1070.5,3568.4 1072.2,3571.5 1073.1,3571.6 1074.2,3573.0 1076.3,3575.4 1078.0,3577.4 1079.7,3579.0 1081.4,3580.5 1083.9,3585.2 1085.7,3584.7 1087.6,3585.7 1088.5,3588.0 1091.1,3591.9 1093.8,3589.9 1094.6,3595.6 1096.1,3597.8 1099.7,3600.4 1100.1,3599.9 1101.4,3601.3 1104.1,3604.5 1105.0,3606.3 1107.1,3609.7 1109.8,3609.8 1110.7,3611.0 1112.1,3611.5 1115.2,3614.8 1117.2,3616.9 1117.9,3620.1 1120.4,3620.4 1123.2,3623.7 1124.7,3625.3 1127.0,3624.3 1128.4,3625.5 1130.2,3627.8 1132.2,3630.0 1134.4,3630.9 1136.7,3634.4 1137.1,3636.0 1139.6,3638.3 1142.8,3638.7 1145.2,3639.4 1146.5,3642.1 1149.0,3642.0 1150.4,3644.9 1152.3,3645.4 1155.3,3649.2 1157.2,3646.2 1159.1,3652.0 1160.7,3653.6 1163.6,3654.0 1165.6,3656.0 1167.6,3657.4 1169.7,3660.3 1171.7,3662.2 1174.3,3661.8 1176.3,3665.3 1179.3,3664.2 1181.2,3666.9 1182.5,3668.4 1183.9,3668.0 1187.1,3671.2 1188.6,3671.5 1192.0,3674.6 1192.4,3674.1 1195.2,3674.5 1198.6,3676.4 1199.9,3679.2 1202.6,3680.8 1204.8,3682.1 1206.4,3682.2 1209.4,3685.1 1210.7,3684.9 1213.3,3686.4 1217.1,3688.9 1218.0,3688.9 1220.7,3688.2 1222.2,3692.1 1226.0,3692.5 1227.0,3693.3 1229.4,3696.1 1231.9,3695.2 1234.1,3697.6 1236.1,3698.2 1239.2,3701.8 1241.4,3698.3 1244.0,3701.4 1245.9,3702.6 1248.3,3704.3 1251.1,3703.8 1253.7,3704.6 1255.5,3707.6 1258.5,3706.7 1260.8,3708.3 1264.0,3709.0 1266.1,3710.3 1268.5,3709.6 1271.2,3711.3 1272.7,3712.7 1276.3,3713.8 1278.0,3715.7 1280.0,3716.1 1283.0,3717.1 1284.5,3717.5 1288.6,3719.7 1290.1,3719.0 1291.5,3720.4 1294.1,3720.1 1296.9,3721.6 1299.3,3724.3 1302.2,3724.5 1304.9,3723.8 1307.4,3726.5 1309.5,3727.2 1311.1,3727.4 1314.7,3729.7 1317.2,3730.0 1317.8,3731.2 1321.0,3732.9 1323.6,3732.3 1325.8,3734.6 1329.4,3734.2 1331.5,3735.0 1333.8,3737.1 1335.5,3737.1 1337.5,3737.1 1340.7,3738.1 1343.2,3739.1 1345.7,3738.3 1347.5,3741.0 1350.3,3741.1 1353.5,3740.6 1356.4,3741.7 1358.4,3744.0 1361.1,3742.8 1363.7,3746.6 1366.1,3744.5 1369.4,3746.4 1370.7,3744.7 1373.8,3747.7 1375.3,3748.1 1379.3,3749.8 1381.5,3750.3 1384.1,3750.7 1386.1,3753.7 1388.5,3753.2 1390.3,3752.6 1393.7,3754.3 1396.8,3752.1 1396.9,3754.9 1402.0,3757.2 1403.1,3756.2 1406.3,3757.4 1408.1,3756.8 1411.0,3759.1 1414.1,3759.1 1416.1,3759.6 1419.8,3760.9 1421.3,3762.1 1424.2,3761.9 1426.0,3760.1 1428.7,3762.5 1431.3,3762.9 1434.4,3762.1 1437.6,3762.1 1439.2,3763.7 1441.0,3764.2 1444.0,3764.8 1446.1,3764.6 1449.7,3765.8 1452.0,3766.4 1453.9,3766.2 1456.9,3767.2 1460.3,3766.7 1462.6,3766.2 1464.5,3768.0 1467.9,3769.2 1470.2,3771.2 1472.3,3767.2 1475.3,3769.0 1478.8,3769.0 1479.7,3770.4 1483.5,3769.7 1485.4,3770.9 1488.4,3772.0 1490.9,3770.7 1493.4,3771.6 1495.7,3773.4 1498.4,3773.0 1501.4,3771.0 1503.9,3774.6" fill="none" stroke="#ee9136" stroke-width="9" stroke-linejoin="round" stroke-linecap="butt" />
</g>
<rect x="135.5" y="2699.0" width="1372.9" height="1103.3" fill="none" stroke="#000" stroke-width="10.4"/>
<line x1="598.2" y1="2805.0" x2="598.2" y2="3810.3" stroke="#ff0000" stroke-width="5.8" stroke-dasharray="22.7 20.03"/>
<line x1="731.7" y1="2791.0" x2="731.7" y2="3797.6" stroke="#ff0000" stroke-width="5.3" stroke-dasharray="22.7 20.03"/>
<line x1="135.5" y1="3801.0" x2="135.5" y2="3820.2" stroke="#000" stroke-width="9.8" />
<text x="135.5" y="3885.4" font-family='"Liberation Sans", Arial, sans-serif' font-size="68" font-weight="bold" text-anchor="middle" textLength="104.5" lengthAdjust="spacingAndGlyphs" >450</text>
<line x1="411.0" y1="3801.0" x2="411.0" y2="3820.2" stroke="#000" stroke-width="9.8" />
<text x="414.5" y="3885.4" font-family='"Liberation Sans", Arial, sans-serif' font-size="68" font-weight="bold" text-anchor="middle" textLength="104.5" lengthAdjust="spacingAndGlyphs" >500</text>
<line x1="684.0" y1="3801.0" x2="684.0" y2="3820.2" stroke="#000" stroke-width="9.8" />
<text x="687.5" y="3885.4" font-family='"Liberation Sans", Arial, sans-serif' font-size="68" font-weight="bold" text-anchor="middle" textLength="104.5" lengthAdjust="spacingAndGlyphs" >550</text>
<line x1="960.0" y1="3801.0" x2="960.0" y2="3820.2" stroke="#000" stroke-width="9.8" />
<text x="961.2" y="3885.4" font-family='"Liberation Sans", Arial, sans-serif' font-size="68" font-weight="bold" text-anchor="middle" textLength="104.5" lengthAdjust="spacingAndGlyphs" >600</text>
<line x1="1236.5" y1="3801.0" x2="1236.5" y2="3820.2" stroke="#000" stroke-width="9.8" />
<text x="1234.0" y="3885.4" font-family='"Liberation Sans", Arial, sans-serif' font-size="68" font-weight="bold" text-anchor="middle" textLength="104.5" lengthAdjust="spacingAndGlyphs" >650</text>
<line x1="1508.4" y1="3801.0" x2="1508.4" y2="3820.2" stroke="#000" stroke-width="9.8" />
<text x="1510.5" y="3885.4" font-family='"Liberation Sans", Arial, sans-serif' font-size="68" font-weight="bold" text-anchor="middle" textLength="104.5" lengthAdjust="spacingAndGlyphs" >700</text>
<line x1="273.2" y1="3801.0" x2="273.2" y2="3810.5" stroke="#000" stroke-width="9" />
<line x1="547.5" y1="3801.0" x2="547.5" y2="3810.5" stroke="#000" stroke-width="9" />
<line x1="822.0" y1="3801.0" x2="822.0" y2="3810.5" stroke="#000" stroke-width="9" />
<line x1="1098.2" y1="3801.0" x2="1098.2" y2="3810.5" stroke="#000" stroke-width="9" />
<line x1="1372.5" y1="3801.0" x2="1372.5" y2="3810.5" stroke="#000" stroke-width="9" />
<text x="567.7" y="3989.8" font-family='"Liberation Sans", Arial, sans-serif' font-size="67" font-weight="bold" text-anchor="start" textLength="506.0" lengthAdjust="spacingAndGlyphs" >Wavelength (nm)</text>
<text x="90.0" y="3761.0" font-family='"Liberation Sans", Arial, sans-serif' font-size="67.8" font-weight="bold" text-anchor="start" textLength="1026.0" lengthAdjust="spacing" transform="rotate(-90 90.0 3761.0)" >Normalized Fluorescence Intensity</text>
<text x="458.3" y="2778.6" font-family='"Liberation Sans", Arial, sans-serif' font-size="58.5" font-weight="bold" text-anchor="start" textLength="196.5" lengthAdjust="spacingAndGlyphs" >533 nm</text>
<text x="688.3" y="2778.6" font-family='"Liberation Sans", Arial, sans-serif' font-size="58.5" font-weight="bold" text-anchor="start" textLength="197.5" lengthAdjust="spacingAndGlyphs" >558 nm</text>
<line x1="1083.7" y1="2859.6" x2="1200.3" y2="2859.6" stroke="#33b050" stroke-width="10.5" />
<text x="1217.5" y="2879.6" font-family='"Liberation Serif", "Times New Roman", serif' font-size="56.5" font-weight="bold" text-anchor="start" textLength="96.5" lengthAdjust="spacingAndGlyphs" >Cur</text>
<line x1="1083.7" y1="2933.7" x2="1200.3" y2="2933.7" stroke="#ee9136" stroke-width="10.4" />
<text x="1217.5" y="2947.9" font-family='"Liberation Serif", "Times New Roman", serif' font-size="56" font-weight="bold" text-anchor="start" textLength="173.0" lengthAdjust="spacingAndGlyphs" >CurNP</text>
<rect x="1351.5" y="2699.0" width="155.5" height="160.7" fill="none" stroke="#000" stroke-width="6.6"/>
<text x="1428.3" y="2816.7" font-family='"Liberation Sans", Arial, sans-serif' font-size="101.5" font-weight="normal" text-anchor="middle" textLength="60.5" lengthAdjust="spacingAndGlyphs" >C</text>
</g>
</svg>
</body></html>
